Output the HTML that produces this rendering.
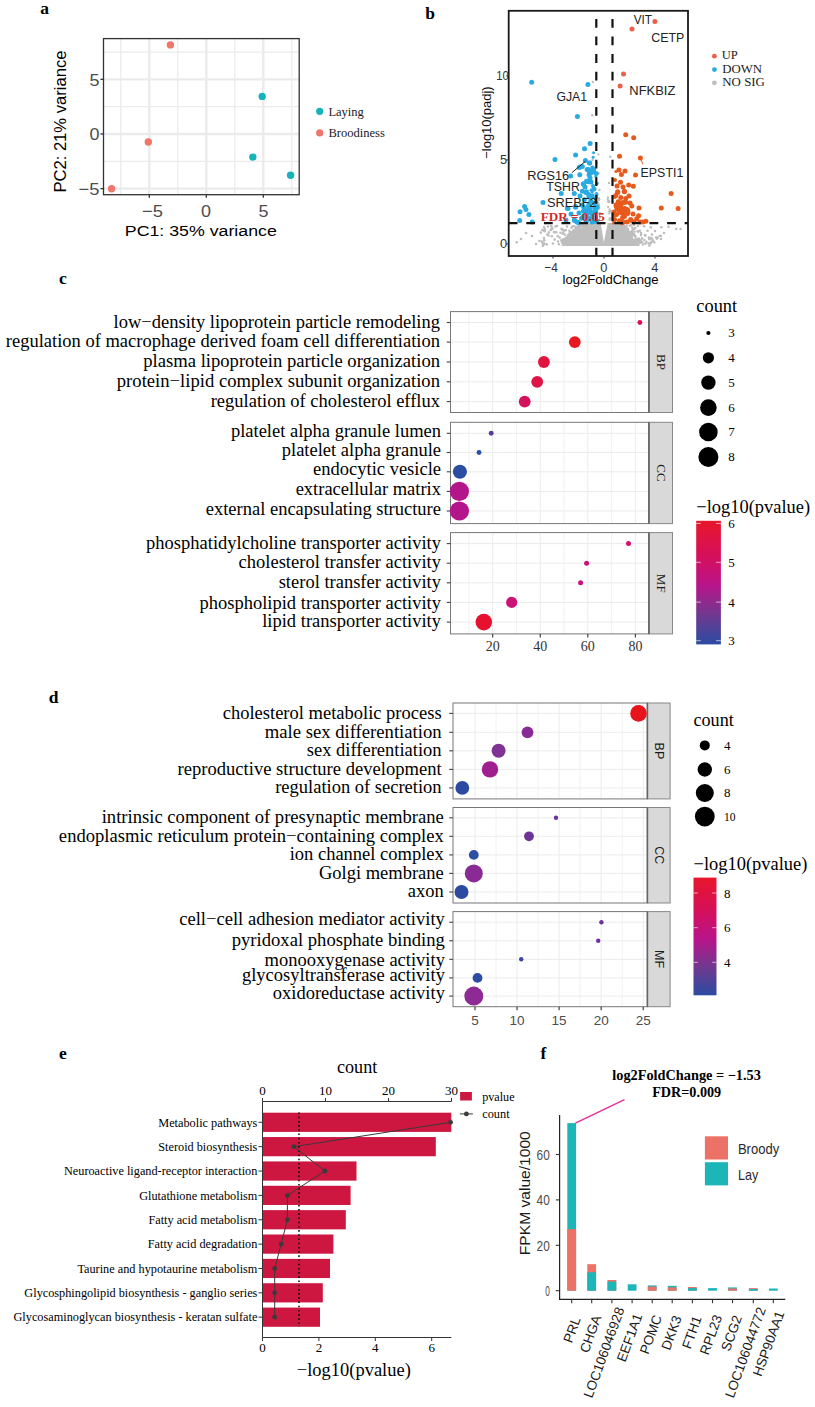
<!DOCTYPE html><html><head><meta charset="utf-8"><style>html,body{margin:0;padding:0;background:#fff;width:815px;height:1407px;overflow:hidden}svg{display:block}</style></head><body><svg width="815" height="1407" viewBox="0 0 815 1407"><rect width="815" height="1407" fill="#fff"/><text x="40.3" y="13.6" font-size="17.5" font-family='"Liberation Serif", serif' fill="#000" font-weight="bold" >a</text>
<text x="425.3" y="19.4" font-size="17.5" font-family='"Liberation Serif", serif' fill="#000" font-weight="bold" >b</text>
<text x="59.0" y="283.8" font-size="17.5" font-family='"Liberation Serif", serif' fill="#000" font-weight="bold" >c</text>
<text x="48.8" y="702.8" font-size="17.5" font-family='"Liberation Serif", serif' fill="#000" font-weight="bold" >d</text>
<text x="59.0" y="1058.5" font-size="17.5" font-family='"Liberation Serif", serif' fill="#000" font-weight="bold" >e</text>
<text x="540.5" y="1058.8" font-size="17.5" font-family='"Liberation Serif", serif' fill="#000" font-weight="bold" >f</text>
<line x1="120.80000000000001" y1="38.6" x2="120.80000000000001" y2="194.7" stroke="#EBEBEB" stroke-width="1.25" />
<line x1="177.8" y1="38.6" x2="177.8" y2="194.7" stroke="#EBEBEB" stroke-width="1.25" />
<line x1="234.8" y1="38.6" x2="234.8" y2="194.7" stroke="#EBEBEB" stroke-width="1.25" />
<line x1="291.8" y1="38.6" x2="291.8" y2="194.7" stroke="#EBEBEB" stroke-width="1.25" />
<line x1="103.5" y1="52.025000000000006" x2="299.2" y2="52.025000000000006" stroke="#EBEBEB" stroke-width="1.25" />
<line x1="103.5" y1="106.675" x2="299.2" y2="106.675" stroke="#EBEBEB" stroke-width="1.25" />
<line x1="103.5" y1="161.325" x2="299.2" y2="161.325" stroke="#EBEBEB" stroke-width="1.25" />
<line x1="149.3" y1="38.6" x2="149.3" y2="194.7" stroke="#EBEBEB" stroke-width="2.4" />
<line x1="206.3" y1="38.6" x2="206.3" y2="194.7" stroke="#EBEBEB" stroke-width="2.4" />
<line x1="263.3" y1="38.6" x2="263.3" y2="194.7" stroke="#EBEBEB" stroke-width="2.4" />
<line x1="103.5" y1="79.35" x2="299.2" y2="79.35" stroke="#EBEBEB" stroke-width="2.4" />
<line x1="103.5" y1="134.0" x2="299.2" y2="134.0" stroke="#EBEBEB" stroke-width="2.4" />
<line x1="103.5" y1="188.65" x2="299.2" y2="188.65" stroke="#EBEBEB" stroke-width="2.4" />
<rect x="103.5" y="38.6" width="195.7" height="156.1" fill="none" stroke="#333" stroke-width="1.3"/>
<line x1="149.3" y1="194.7" x2="149.3" y2="197.7" stroke="#333" stroke-width="1.3" />
<line x1="206.3" y1="194.7" x2="206.3" y2="197.7" stroke="#333" stroke-width="1.3" />
<line x1="263.3" y1="194.7" x2="263.3" y2="197.7" stroke="#333" stroke-width="1.3" />
<line x1="100.5" y1="79.35" x2="103.5" y2="79.35" stroke="#333" stroke-width="1.3" />
<line x1="100.5" y1="134.0" x2="103.5" y2="134.0" stroke="#333" stroke-width="1.3" />
<line x1="100.5" y1="188.65" x2="103.5" y2="188.65" stroke="#333" stroke-width="1.3" />
<circle cx="111.6" cy="188.7" r="3.7" fill="#F0756B"/>
<circle cx="148.3" cy="142" r="3.7" fill="#F0756B"/>
<circle cx="170.4" cy="44.9" r="3.7" fill="#F0756B"/>
<circle cx="262.2" cy="96.4" r="3.7" fill="#16B4B9"/>
<circle cx="252.8" cy="157.1" r="3.7" fill="#16B4B9"/>
<circle cx="290.6" cy="175.2" r="3.7" fill="#16B4B9"/>
<text x="99.4" y="85.5" font-size="16.8" font-family='"Liberation Sans", sans-serif' fill="#4D4D4D" text-anchor="end" textLength="10" lengthAdjust="spacingAndGlyphs" >5</text>
<text x="99.4" y="140.1" font-size="16.8" font-family='"Liberation Sans", sans-serif' fill="#4D4D4D" text-anchor="end" textLength="10" lengthAdjust="spacingAndGlyphs" >0</text>
<text x="99.4" y="194.8" font-size="16.8" font-family='"Liberation Sans", sans-serif' fill="#4D4D4D" text-anchor="end" textLength="21" lengthAdjust="spacingAndGlyphs" >−5</text>
<text x="152.6" y="216.6" font-size="16.8" font-family='"Liberation Sans", sans-serif' fill="#4D4D4D" text-anchor="middle" textLength="21" lengthAdjust="spacingAndGlyphs" >−5</text>
<text x="206.1" y="216.6" font-size="16.8" font-family='"Liberation Sans", sans-serif' fill="#4D4D4D" text-anchor="middle" textLength="10" lengthAdjust="spacingAndGlyphs" >0</text>
<text x="263.5" y="216.6" font-size="16.8" font-family='"Liberation Sans", sans-serif' fill="#4D4D4D" text-anchor="middle" textLength="10" lengthAdjust="spacingAndGlyphs" >5</text>
<text x="124.8" y="235.8" font-size="15.4" font-family='"Liberation Sans", sans-serif' fill="#000" textLength="152" lengthAdjust="spacingAndGlyphs" >PC1: 35% variance</text>
<text transform="translate(66.3,192.6) rotate(-90)" font-size="16.6" font-family='"Liberation Sans", sans-serif' fill="#000" textLength="142" lengthAdjust="spacingAndGlyphs" >PC2: 21% variance</text>
<circle cx="319.7" cy="111.3" r="3.6" fill="#16B4B9"/>
<circle cx="319.7" cy="132.9" r="3.6" fill="#F0756B"/>
<text x="328.4" y="116.3" font-size="12.7" font-family='"Liberation Serif", serif' fill="#222" textLength="35.5" lengthAdjust="spacingAndGlyphs" >Laying</text>
<text x="328.4" y="136.9" font-size="12.7" font-family='"Liberation Serif", serif' fill="#222" textLength="56.5" lengthAdjust="spacingAndGlyphs" >Broodiness</text>
<rect x="508.7" y="10.8" width="179.3" height="245.2" fill="#fff"/>
<polygon fill="#BEBEBE" points="561.5,246 562.6,243 587.1,223 600.7,223 603.8,242.5 607.7,223 621,223 622.5,229 639.5,244 639.5,246"/>
<circle cx="570.5" cy="236.4" r="1.3" fill="#BEBEBE"/>
<circle cx="578.7" cy="230.1" r="1.3" fill="#BEBEBE"/>
<circle cx="575.1" cy="231.5" r="1.3" fill="#BEBEBE"/>
<circle cx="563.1" cy="240.7" r="1.3" fill="#BEBEBE"/>
<circle cx="562.7" cy="241.3" r="1.3" fill="#BEBEBE"/>
<circle cx="564.4" cy="241.7" r="1.3" fill="#BEBEBE"/>
<circle cx="571.2" cy="232.3" r="1.3" fill="#BEBEBE"/>
<circle cx="565.4" cy="240.2" r="1.3" fill="#BEBEBE"/>
<circle cx="575.9" cy="227.9" r="1.3" fill="#BEBEBE"/>
<circle cx="576.1" cy="230.6" r="1.3" fill="#BEBEBE"/>
<circle cx="586.7" cy="223.7" r="1.3" fill="#BEBEBE"/>
<circle cx="583.2" cy="225.3" r="1.3" fill="#BEBEBE"/>
<circle cx="566.2" cy="240.1" r="1.3" fill="#BEBEBE"/>
<circle cx="568.4" cy="234.7" r="1.3" fill="#BEBEBE"/>
<circle cx="565.9" cy="238.0" r="1.3" fill="#BEBEBE"/>
<circle cx="577.6" cy="229.5" r="1.3" fill="#BEBEBE"/>
<circle cx="576.2" cy="232.2" r="1.3" fill="#BEBEBE"/>
<circle cx="563.9" cy="241.6" r="1.3" fill="#BEBEBE"/>
<circle cx="578.5" cy="228.5" r="1.3" fill="#BEBEBE"/>
<circle cx="569.1" cy="235.3" r="1.3" fill="#BEBEBE"/>
<circle cx="573.3" cy="233.4" r="1.3" fill="#BEBEBE"/>
<circle cx="580.6" cy="225.3" r="1.3" fill="#BEBEBE"/>
<circle cx="567.4" cy="236.7" r="1.3" fill="#BEBEBE"/>
<circle cx="573.6" cy="230.2" r="1.3" fill="#BEBEBE"/>
<circle cx="580.1" cy="227.9" r="1.3" fill="#BEBEBE"/>
<circle cx="586.6" cy="223.4" r="1.3" fill="#BEBEBE"/>
<circle cx="571.3" cy="232.7" r="1.3" fill="#BEBEBE"/>
<circle cx="565.4" cy="238.8" r="1.3" fill="#BEBEBE"/>
<circle cx="562.2" cy="240.5" r="1.3" fill="#BEBEBE"/>
<circle cx="580.2" cy="226.3" r="1.3" fill="#BEBEBE"/>
<circle cx="583.6" cy="224.9" r="1.3" fill="#BEBEBE"/>
<circle cx="578.5" cy="227.6" r="1.3" fill="#BEBEBE"/>
<circle cx="576.0" cy="230.4" r="1.3" fill="#BEBEBE"/>
<circle cx="581.1" cy="223.7" r="1.3" fill="#BEBEBE"/>
<circle cx="572.9" cy="231.9" r="1.3" fill="#BEBEBE"/>
<circle cx="562.6" cy="240.0" r="1.3" fill="#BEBEBE"/>
<circle cx="576.3" cy="227.4" r="1.3" fill="#BEBEBE"/>
<circle cx="582.3" cy="226.1" r="1.3" fill="#BEBEBE"/>
<circle cx="570.7" cy="233.6" r="1.3" fill="#BEBEBE"/>
<circle cx="562.3" cy="241.5" r="1.3" fill="#BEBEBE"/>
<circle cx="566.7" cy="239.7" r="1.3" fill="#BEBEBE"/>
<circle cx="562.4" cy="239.8" r="1.3" fill="#BEBEBE"/>
<circle cx="565.5" cy="240.0" r="1.3" fill="#BEBEBE"/>
<circle cx="570.3" cy="232.9" r="1.3" fill="#BEBEBE"/>
<circle cx="563.8" cy="240.4" r="1.3" fill="#BEBEBE"/>
<circle cx="574.2" cy="229.7" r="1.3" fill="#BEBEBE"/>
<circle cx="580.8" cy="224.3" r="1.3" fill="#BEBEBE"/>
<circle cx="568.7" cy="236.5" r="1.3" fill="#BEBEBE"/>
<circle cx="569.5" cy="233.5" r="1.3" fill="#BEBEBE"/>
<circle cx="586.0" cy="223.8" r="1.3" fill="#BEBEBE"/>
<circle cx="566.6" cy="239.1" r="1.3" fill="#BEBEBE"/>
<circle cx="567.4" cy="237.2" r="1.3" fill="#BEBEBE"/>
<circle cx="576.7" cy="230.8" r="1.3" fill="#BEBEBE"/>
<circle cx="562.0" cy="242.0" r="1.3" fill="#BEBEBE"/>
<circle cx="570.5" cy="234.3" r="1.3" fill="#BEBEBE"/>
<circle cx="584.5" cy="222.2" r="1.3" fill="#BEBEBE"/>
<circle cx="574.0" cy="231.2" r="1.3" fill="#BEBEBE"/>
<circle cx="579.3" cy="229.7" r="1.3" fill="#BEBEBE"/>
<circle cx="583.0" cy="223.0" r="1.3" fill="#BEBEBE"/>
<circle cx="582.3" cy="223.4" r="1.3" fill="#BEBEBE"/>
<circle cx="571.5" cy="234.3" r="1.3" fill="#BEBEBE"/>
<circle cx="563.9" cy="239.4" r="1.3" fill="#BEBEBE"/>
<circle cx="564.3" cy="241.9" r="1.3" fill="#BEBEBE"/>
<circle cx="567.6" cy="238.7" r="1.3" fill="#BEBEBE"/>
<circle cx="571.1" cy="236.4" r="1.3" fill="#BEBEBE"/>
<circle cx="562.5" cy="242.9" r="1.3" fill="#BEBEBE"/>
<circle cx="564.5" cy="240.2" r="1.3" fill="#BEBEBE"/>
<circle cx="561.3" cy="240.2" r="1.3" fill="#BEBEBE"/>
<circle cx="577.6" cy="230.6" r="1.3" fill="#BEBEBE"/>
<circle cx="568.2" cy="237.3" r="1.3" fill="#BEBEBE"/>
<circle cx="628.7" cy="234.5" r="1.3" fill="#BEBEBE"/>
<circle cx="639.2" cy="239.1" r="1.3" fill="#BEBEBE"/>
<circle cx="631.4" cy="234.9" r="1.3" fill="#BEBEBE"/>
<circle cx="623.9" cy="230.4" r="1.3" fill="#BEBEBE"/>
<circle cx="628.7" cy="233.7" r="1.3" fill="#BEBEBE"/>
<circle cx="636.7" cy="241.3" r="1.3" fill="#BEBEBE"/>
<circle cx="625.1" cy="226.9" r="1.3" fill="#BEBEBE"/>
<circle cx="631.5" cy="236.9" r="1.3" fill="#BEBEBE"/>
<circle cx="631.5" cy="237.4" r="1.3" fill="#BEBEBE"/>
<circle cx="633.7" cy="234.4" r="1.3" fill="#BEBEBE"/>
<circle cx="638.7" cy="240.2" r="1.3" fill="#BEBEBE"/>
<circle cx="627.6" cy="232.2" r="1.3" fill="#BEBEBE"/>
<circle cx="627.0" cy="229.6" r="1.3" fill="#BEBEBE"/>
<circle cx="633.3" cy="235.0" r="1.3" fill="#BEBEBE"/>
<circle cx="628.4" cy="233.7" r="1.3" fill="#BEBEBE"/>
<circle cx="638.6" cy="238.6" r="1.3" fill="#BEBEBE"/>
<circle cx="638.8" cy="239.7" r="1.3" fill="#BEBEBE"/>
<circle cx="638.0" cy="239.4" r="1.3" fill="#BEBEBE"/>
<circle cx="627.4" cy="231.2" r="1.3" fill="#BEBEBE"/>
<circle cx="628.3" cy="234.6" r="1.3" fill="#BEBEBE"/>
<circle cx="623.4" cy="229.0" r="1.3" fill="#BEBEBE"/>
<circle cx="628.4" cy="231.2" r="1.3" fill="#BEBEBE"/>
<circle cx="639.6" cy="242.4" r="1.3" fill="#BEBEBE"/>
<circle cx="640.7" cy="240.5" r="1.3" fill="#BEBEBE"/>
<circle cx="639.4" cy="242.6" r="1.3" fill="#BEBEBE"/>
<circle cx="626.5" cy="232.0" r="1.3" fill="#BEBEBE"/>
<circle cx="626.1" cy="231.7" r="1.3" fill="#BEBEBE"/>
<circle cx="635.2" cy="236.0" r="1.3" fill="#BEBEBE"/>
<circle cx="637.7" cy="240.5" r="1.3" fill="#BEBEBE"/>
<circle cx="635.4" cy="236.8" r="1.3" fill="#BEBEBE"/>
<circle cx="625.4" cy="228.7" r="1.3" fill="#BEBEBE"/>
<circle cx="639.7" cy="240.7" r="1.3" fill="#BEBEBE"/>
<circle cx="636.2" cy="239.2" r="1.3" fill="#BEBEBE"/>
<circle cx="627.3" cy="229.7" r="1.3" fill="#BEBEBE"/>
<circle cx="629.9" cy="232.0" r="1.3" fill="#BEBEBE"/>
<circle cx="639.7" cy="242.8" r="1.3" fill="#BEBEBE"/>
<circle cx="631.5" cy="232.6" r="1.3" fill="#BEBEBE"/>
<circle cx="634.9" cy="239.7" r="1.3" fill="#BEBEBE"/>
<circle cx="624.7" cy="230.8" r="1.3" fill="#BEBEBE"/>
<circle cx="639.7" cy="240.5" r="1.3" fill="#BEBEBE"/>
<circle cx="626.8" cy="229.1" r="1.3" fill="#BEBEBE"/>
<circle cx="640.6" cy="242.1" r="1.3" fill="#BEBEBE"/>
<circle cx="629.6" cy="233.0" r="1.3" fill="#BEBEBE"/>
<circle cx="624.4" cy="231.3" r="1.3" fill="#BEBEBE"/>
<circle cx="640.4" cy="242.0" r="1.3" fill="#BEBEBE"/>
<circle cx="633.6" cy="234.5" r="1.3" fill="#BEBEBE"/>
<circle cx="631.8" cy="233.3" r="1.3" fill="#BEBEBE"/>
<circle cx="636.8" cy="241.1" r="1.3" fill="#BEBEBE"/>
<circle cx="627.2" cy="232.3" r="1.3" fill="#BEBEBE"/>
<circle cx="627.8" cy="231.2" r="1.3" fill="#BEBEBE"/>
<circle cx="627.7" cy="232.0" r="1.3" fill="#BEBEBE"/>
<circle cx="626.8" cy="228.6" r="1.3" fill="#BEBEBE"/>
<circle cx="629.4" cy="233.3" r="1.3" fill="#BEBEBE"/>
<circle cx="634.5" cy="235.4" r="1.3" fill="#BEBEBE"/>
<circle cx="631.7" cy="232.9" r="1.3" fill="#BEBEBE"/>
<circle cx="632.1" cy="235.3" r="1.3" fill="#BEBEBE"/>
<circle cx="631.1" cy="237.2" r="1.3" fill="#BEBEBE"/>
<circle cx="630.1" cy="235.4" r="1.3" fill="#BEBEBE"/>
<circle cx="624.3" cy="227.0" r="1.3" fill="#BEBEBE"/>
<circle cx="626.3" cy="230.5" r="1.3" fill="#BEBEBE"/>
<circle cx="623.2" cy="226.3" r="1.3" fill="#BEBEBE"/>
<circle cx="622.0" cy="226.1" r="1.3" fill="#BEBEBE"/>
<circle cx="622.7" cy="227.7" r="1.3" fill="#BEBEBE"/>
<circle cx="621.3" cy="226.4" r="1.3" fill="#BEBEBE"/>
<circle cx="621.7" cy="224.7" r="1.3" fill="#BEBEBE"/>
<circle cx="623.3" cy="226.0" r="1.3" fill="#BEBEBE"/>
<circle cx="622.7" cy="227.6" r="1.3" fill="#BEBEBE"/>
<circle cx="623.7" cy="225.7" r="1.3" fill="#BEBEBE"/>
<circle cx="622.8" cy="226.0" r="1.3" fill="#BEBEBE"/>
<circle cx="622.5" cy="227.2" r="1.3" fill="#BEBEBE"/>
<circle cx="622.4" cy="226.2" r="1.3" fill="#BEBEBE"/>
<circle cx="622.4" cy="228.6" r="1.3" fill="#BEBEBE"/>
<circle cx="623.1" cy="228.3" r="1.3" fill="#BEBEBE"/>
<circle cx="623.8" cy="224.6" r="1.3" fill="#BEBEBE"/>
<circle cx="622.7" cy="228.7" r="1.3" fill="#BEBEBE"/>
<circle cx="623.5" cy="223.8" r="1.3" fill="#BEBEBE"/>
<circle cx="621.4" cy="225.7" r="1.3" fill="#BEBEBE"/>
<circle cx="621.2" cy="224.4" r="1.3" fill="#BEBEBE"/>
<circle cx="621.2" cy="227.0" r="1.3" fill="#BEBEBE"/>
<circle cx="623.4" cy="228.4" r="1.3" fill="#BEBEBE"/>
<circle cx="621.5" cy="227.3" r="1.3" fill="#BEBEBE"/>
<circle cx="623.0" cy="223.9" r="1.3" fill="#BEBEBE"/>
<circle cx="623.6" cy="228.8" r="1.3" fill="#BEBEBE"/>
<circle cx="621.7" cy="228.7" r="1.3" fill="#BEBEBE"/>
<circle cx="622.2" cy="225.9" r="1.3" fill="#BEBEBE"/>
<circle cx="516.7" cy="242.2" r="1.3" fill="#BEBEBE"/>
<circle cx="532" cy="236" r="1.3" fill="#BEBEBE"/>
<circle cx="539.4" cy="241" r="1.3" fill="#BEBEBE"/>
<circle cx="544.3" cy="230.5" r="1.3" fill="#BEBEBE"/>
<circle cx="551" cy="230" r="1.3" fill="#BEBEBE"/>
<circle cx="544.3" cy="240.3" r="1.3" fill="#BEBEBE"/>
<circle cx="544.3" cy="244" r="1.3" fill="#BEBEBE"/>
<circle cx="555.3" cy="232.3" r="1.3" fill="#BEBEBE"/>
<circle cx="562" cy="229.3" r="1.3" fill="#BEBEBE"/>
<circle cx="565.7" cy="230" r="1.3" fill="#BEBEBE"/>
<circle cx="544.4" cy="230.8" r="1.3" fill="#BEBEBE"/>
<circle cx="550.8" cy="229.8" r="1.3" fill="#BEBEBE"/>
<circle cx="556.2" cy="232.2" r="1.3" fill="#BEBEBE"/>
<circle cx="561.6" cy="228.8" r="1.3" fill="#BEBEBE"/>
<circle cx="565.5" cy="230.3" r="1.3" fill="#BEBEBE"/>
<circle cx="544" cy="238" r="1.3" fill="#BEBEBE"/>
<circle cx="551.8" cy="236.2" r="1.3" fill="#BEBEBE"/>
<circle cx="554.7" cy="239.6" r="1.3" fill="#BEBEBE"/>
<circle cx="559.6" cy="237.6" r="1.3" fill="#BEBEBE"/>
<circle cx="562.6" cy="233.7" r="1.3" fill="#BEBEBE"/>
<circle cx="571.4" cy="227.8" r="1.3" fill="#BEBEBE"/>
<circle cx="574.3" cy="226.3" r="1.3" fill="#BEBEBE"/>
<circle cx="569.4" cy="230.8" r="1.3" fill="#BEBEBE"/>
<circle cx="526" cy="233" r="1.3" fill="#BEBEBE"/>
<circle cx="521" cy="239" r="1.3" fill="#BEBEBE"/>
<circle cx="536" cy="244" r="1.3" fill="#BEBEBE"/>
<circle cx="548" cy="226.5" r="1.3" fill="#BEBEBE"/>
<circle cx="557" cy="226" r="1.3" fill="#BEBEBE"/>
<circle cx="567" cy="226.5" r="1.3" fill="#BEBEBE"/>
<circle cx="578" cy="226" r="1.3" fill="#BEBEBE"/>
<circle cx="582" cy="225.5" r="1.3" fill="#BEBEBE"/>
<circle cx="553" cy="243.5" r="1.3" fill="#BEBEBE"/>
<circle cx="558" cy="241.5" r="1.3" fill="#BEBEBE"/>
<circle cx="626.5" cy="226.3" r="1.3" fill="#BEBEBE"/>
<circle cx="629.8" cy="225.7" r="1.3" fill="#BEBEBE"/>
<circle cx="635.3" cy="228" r="1.3" fill="#BEBEBE"/>
<circle cx="644.2" cy="226.3" r="1.3" fill="#BEBEBE"/>
<circle cx="650.8" cy="227.4" r="1.3" fill="#BEBEBE"/>
<circle cx="647.5" cy="230.7" r="1.3" fill="#BEBEBE"/>
<circle cx="639.8" cy="230.7" r="1.3" fill="#BEBEBE"/>
<circle cx="632" cy="230.7" r="1.3" fill="#BEBEBE"/>
<circle cx="623.2" cy="231.3" r="1.3" fill="#BEBEBE"/>
<circle cx="651.9" cy="234.6" r="1.3" fill="#BEBEBE"/>
<circle cx="656.3" cy="237.3" r="1.3" fill="#BEBEBE"/>
<circle cx="659.6" cy="235.7" r="1.3" fill="#BEBEBE"/>
<circle cx="653" cy="240.6" r="1.3" fill="#BEBEBE"/>
<circle cx="648.6" cy="243.4" r="1.3" fill="#BEBEBE"/>
<circle cx="642" cy="238.4" r="1.3" fill="#BEBEBE"/>
<circle cx="668.5" cy="226.8" r="1.3" fill="#BEBEBE"/>
<circle cx="676.2" cy="229" r="1.3" fill="#BEBEBE"/>
<circle cx="680.6" cy="229" r="1.3" fill="#BEBEBE"/>
<circle cx="644.2" cy="240" r="1.3" fill="#BEBEBE"/>
<circle cx="646.4" cy="241.7" r="1.3" fill="#BEBEBE"/>
<circle cx="638" cy="226" r="1.3" fill="#BEBEBE"/>
<circle cx="641" cy="233" r="1.3" fill="#BEBEBE"/>
<circle cx="645" cy="235" r="1.3" fill="#BEBEBE"/>
<circle cx="649" cy="237.5" r="1.3" fill="#BEBEBE"/>
<circle cx="655" cy="231" r="1.3" fill="#BEBEBE"/>
<circle cx="661" cy="239" r="1.3" fill="#BEBEBE"/>
<circle cx="664" cy="233" r="1.3" fill="#BEBEBE"/>
<circle cx="643" cy="244.5" r="1.3" fill="#BEBEBE"/>
<circle cx="634" cy="225" r="1.3" fill="#BEBEBE"/>
<circle cx="628" cy="229" r="1.3" fill="#BEBEBE"/>
<circle cx="547.3" cy="234.6" r="1.3" fill="#BEBEBE"/>
<circle cx="563.2" cy="232.8" r="1.3" fill="#BEBEBE"/>
<circle cx="548.8" cy="232.4" r="1.3" fill="#BEBEBE"/>
<circle cx="572.5" cy="226.4" r="1.3" fill="#BEBEBE"/>
<circle cx="564.9" cy="234.8" r="1.3" fill="#BEBEBE"/>
<circle cx="540.8" cy="232.6" r="1.3" fill="#BEBEBE"/>
<circle cx="568.1" cy="236.2" r="1.3" fill="#BEBEBE"/>
<circle cx="542.9" cy="245.7" r="1.3" fill="#BEBEBE"/>
<circle cx="544.7" cy="231.3" r="1.3" fill="#BEBEBE"/>
<circle cx="541.8" cy="241.6" r="1.3" fill="#BEBEBE"/>
<circle cx="552.2" cy="228.6" r="1.3" fill="#BEBEBE"/>
<circle cx="559.0" cy="244.2" r="1.3" fill="#BEBEBE"/>
<circle cx="546.7" cy="244.4" r="1.3" fill="#BEBEBE"/>
<circle cx="544.0" cy="227.2" r="1.3" fill="#BEBEBE"/>
<circle cx="571.0" cy="234.5" r="1.3" fill="#BEBEBE"/>
<circle cx="543.3" cy="244.8" r="1.3" fill="#BEBEBE"/>
<circle cx="543.8" cy="243.1" r="1.3" fill="#BEBEBE"/>
<circle cx="543.0" cy="243.3" r="1.3" fill="#BEBEBE"/>
<circle cx="560.4" cy="232.8" r="1.3" fill="#BEBEBE"/>
<circle cx="552.1" cy="228.6" r="1.3" fill="#BEBEBE"/>
<circle cx="563.7" cy="230.8" r="1.3" fill="#BEBEBE"/>
<circle cx="544.9" cy="229.2" r="1.3" fill="#BEBEBE"/>
<circle cx="542.3" cy="230.0" r="1.3" fill="#BEBEBE"/>
<circle cx="554.0" cy="232.1" r="1.3" fill="#BEBEBE"/>
<circle cx="574.2" cy="231.8" r="1.3" fill="#BEBEBE"/>
<circle cx="562.5" cy="229.6" r="1.3" fill="#BEBEBE"/>
<circle cx="555.6" cy="226.4" r="1.3" fill="#BEBEBE"/>
<circle cx="551.3" cy="226.3" r="1.3" fill="#BEBEBE"/>
<circle cx="548.5" cy="235.5" r="1.3" fill="#BEBEBE"/>
<circle cx="557.7" cy="236.1" r="1.3" fill="#BEBEBE"/>
<circle cx="649.5" cy="245.6" r="1.3" fill="#BEBEBE"/>
<circle cx="650.3" cy="238.0" r="1.3" fill="#BEBEBE"/>
<circle cx="638.2" cy="231.6" r="1.3" fill="#BEBEBE"/>
<circle cx="624.2" cy="226.9" r="1.3" fill="#BEBEBE"/>
<circle cx="632.2" cy="227.6" r="1.3" fill="#BEBEBE"/>
<circle cx="656.8" cy="238.8" r="1.3" fill="#BEBEBE"/>
<circle cx="633.3" cy="229.3" r="1.3" fill="#BEBEBE"/>
<circle cx="633.7" cy="234.1" r="1.3" fill="#BEBEBE"/>
<circle cx="628.3" cy="233.8" r="1.3" fill="#BEBEBE"/>
<circle cx="660.9" cy="236.0" r="1.3" fill="#BEBEBE"/>
<circle cx="634.4" cy="231.8" r="1.3" fill="#BEBEBE"/>
<circle cx="641.0" cy="235.1" r="1.3" fill="#BEBEBE"/>
<circle cx="630.0" cy="235.1" r="1.3" fill="#BEBEBE"/>
<circle cx="623.7" cy="224.5" r="1.3" fill="#BEBEBE"/>
<circle cx="634.2" cy="229.1" r="1.3" fill="#BEBEBE"/>
<circle cx="645.4" cy="235.6" r="1.3" fill="#BEBEBE"/>
<circle cx="652.0" cy="238.5" r="1.3" fill="#BEBEBE"/>
<circle cx="650.6" cy="243.3" r="1.3" fill="#BEBEBE"/>
<circle cx="637.6" cy="231.2" r="1.3" fill="#BEBEBE"/>
<circle cx="661.4" cy="227.3" r="1.3" fill="#BEBEBE"/>
<circle cx="651.0" cy="238.2" r="1.3" fill="#BEBEBE"/>
<circle cx="657.7" cy="237.8" r="1.3" fill="#BEBEBE"/>
<circle cx="651.4" cy="241.9" r="1.3" fill="#BEBEBE"/>
<circle cx="642.2" cy="242.4" r="1.3" fill="#BEBEBE"/>
<circle cx="654.2" cy="242.2" r="1.3" fill="#BEBEBE"/>
<circle cx="645.4" cy="243.6" r="1.3" fill="#BEBEBE"/>
<circle cx="649.3" cy="239.3" r="1.3" fill="#BEBEBE"/>
<circle cx="631.2" cy="224.7" r="1.3" fill="#BEBEBE"/>
<circle cx="627.3" cy="231.9" r="1.3" fill="#BEBEBE"/>
<circle cx="598.2" cy="205.2" r="1.15" fill="#BEBEBE"/>
<circle cx="598.4" cy="154.4" r="1.15" fill="#BEBEBE"/>
<circle cx="597.0" cy="163.0" r="1.15" fill="#BEBEBE"/>
<circle cx="599.3" cy="199.3" r="1.15" fill="#BEBEBE"/>
<circle cx="597.5" cy="202.2" r="1.15" fill="#BEBEBE"/>
<circle cx="609.6" cy="220.0" r="1.15" fill="#BEBEBE"/>
<circle cx="599.1" cy="205.5" r="1.15" fill="#BEBEBE"/>
<circle cx="599.9" cy="213.1" r="1.15" fill="#BEBEBE"/>
<circle cx="597.7" cy="183.4" r="1.15" fill="#BEBEBE"/>
<circle cx="597.8" cy="203.9" r="1.15" fill="#BEBEBE"/>
<circle cx="609.7" cy="209.5" r="1.15" fill="#BEBEBE"/>
<circle cx="596.6" cy="174.5" r="1.15" fill="#BEBEBE"/>
<circle cx="599.1" cy="200.0" r="1.15" fill="#BEBEBE"/>
<circle cx="609.4" cy="211.7" r="1.15" fill="#BEBEBE"/>
<circle cx="596.9" cy="206.4" r="1.15" fill="#BEBEBE"/>
<circle cx="609.7" cy="218.5" r="1.15" fill="#BEBEBE"/>
<circle cx="598.4" cy="203.2" r="1.15" fill="#BEBEBE"/>
<circle cx="611.0" cy="211.5" r="1.15" fill="#BEBEBE"/>
<circle cx="611.2" cy="211.2" r="1.15" fill="#BEBEBE"/>
<circle cx="609.3" cy="213.6" r="1.15" fill="#BEBEBE"/>
<circle cx="607.8" cy="199.5" r="1.15" fill="#BEBEBE"/>
<circle cx="596.9" cy="197.8" r="1.15" fill="#BEBEBE"/>
<circle cx="609.2" cy="211.6" r="1.15" fill="#BEBEBE"/>
<circle cx="608.1" cy="201.7" r="1.15" fill="#BEBEBE"/>
<circle cx="599.2" cy="199.6" r="1.15" fill="#BEBEBE"/>
<circle cx="596.8" cy="196.0" r="1.15" fill="#BEBEBE"/>
<circle cx="609.0" cy="201.0" r="1.15" fill="#BEBEBE"/>
<circle cx="607.9" cy="197.5" r="1.15" fill="#BEBEBE"/>
<circle cx="598.2" cy="220.7" r="1.15" fill="#BEBEBE"/>
<circle cx="598.6" cy="204.7" r="1.15" fill="#BEBEBE"/>
<circle cx="600.0" cy="217.5" r="1.15" fill="#BEBEBE"/>
<circle cx="608.8" cy="202.2" r="1.15" fill="#BEBEBE"/>
<circle cx="599.2" cy="214.0" r="1.15" fill="#BEBEBE"/>
<circle cx="598.8" cy="173.3" r="1.15" fill="#BEBEBE"/>
<circle cx="597.3" cy="209.9" r="1.15" fill="#BEBEBE"/>
<circle cx="610.5" cy="218.3" r="1.15" fill="#BEBEBE"/>
<circle cx="608.1" cy="207.1" r="1.15" fill="#BEBEBE"/>
<circle cx="598.9" cy="198.2" r="1.15" fill="#BEBEBE"/>
<circle cx="609.3" cy="202.0" r="1.15" fill="#BEBEBE"/>
<circle cx="599.2" cy="208.7" r="1.15" fill="#BEBEBE"/>
<circle cx="592.8" cy="82" r="1.2" fill="#BEBEBE"/>
<circle cx="592.2" cy="115.3" r="1.2" fill="#BEBEBE"/>
<circle cx="610.3" cy="156.8" r="1.2" fill="#BEBEBE"/>
<circle cx="592.5" cy="160" r="1.2" fill="#BEBEBE"/>
<circle cx="609" cy="183" r="1.2" fill="#BEBEBE"/>
<circle cx="599.5" cy="190" r="1.2" fill="#BEBEBE"/>
<circle cx="531.7" cy="82.2" r="2.5" fill="#29ABE2"/>
<circle cx="587.9" cy="84.5" r="2.5" fill="#29ABE2"/>
<circle cx="577.4" cy="116.5" r="2.5" fill="#29ABE2"/>
<circle cx="590.1" cy="143.6" r="2.5" fill="#29ABE2"/>
<circle cx="584.5" cy="148.8" r="2.5" fill="#29ABE2"/>
<circle cx="575.6" cy="155" r="2.5" fill="#29ABE2"/>
<circle cx="555" cy="159.4" r="2.5" fill="#29ABE2"/>
<circle cx="593.6" cy="152.8" r="1.5" fill="#29ABE2"/>
<circle cx="593.1" cy="157.2" r="1.5" fill="#29ABE2"/>
<circle cx="585.4" cy="160.4" r="2.5" fill="#29ABE2"/>
<circle cx="589.7" cy="162.9" r="2.5" fill="#29ABE2"/>
<circle cx="582.3" cy="166.6" r="2.5" fill="#29ABE2"/>
<circle cx="579.2" cy="167.4" r="2.5" fill="#29ABE2"/>
<circle cx="588.2" cy="169.5" r="2.5" fill="#29ABE2"/>
<circle cx="589.7" cy="172.3" r="2.5" fill="#29ABE2"/>
<circle cx="592.7" cy="168" r="2" fill="#29ABE2"/>
<circle cx="579.8" cy="174.8" r="2.5" fill="#29ABE2"/>
<circle cx="570.6" cy="176" r="2.5" fill="#29ABE2"/>
<circle cx="594.6" cy="173" r="1.5" fill="#29ABE2"/>
<circle cx="588.4" cy="181.5" r="2.5" fill="#29ABE2"/>
<circle cx="583.2" cy="184" r="2.5" fill="#29ABE2"/>
<circle cx="595.8" cy="176.6" r="1.5" fill="#29ABE2"/>
<circle cx="596.4" cy="184" r="1.5" fill="#29ABE2"/>
<circle cx="590.9" cy="190.1" r="1.5" fill="#29ABE2"/>
<circle cx="582.3" cy="191.3" r="2.5" fill="#29ABE2"/>
<circle cx="574.3" cy="193.4" r="2.5" fill="#29ABE2"/>
<circle cx="561.2" cy="193.4" r="2.5" fill="#29ABE2"/>
<circle cx="586" cy="192.6" r="2.5" fill="#29ABE2"/>
<circle cx="596.4" cy="193.8" r="1.8" fill="#29ABE2"/>
<circle cx="585" cy="160.7" r="2" fill="#29ABE2"/>
<circle cx="589.5" cy="163" r="2.5" fill="#29ABE2"/>
<circle cx="579.9" cy="167" r="2.5" fill="#29ABE2"/>
<circle cx="592.4" cy="167.4" r="2" fill="#29ABE2"/>
<circle cx="587.2" cy="169.6" r="2.5" fill="#29ABE2"/>
<circle cx="589.5" cy="171" r="2.5" fill="#29ABE2"/>
<circle cx="590.9" cy="172.9" r="2.5" fill="#29ABE2"/>
<circle cx="589.1" cy="174.7" r="2.5" fill="#29ABE2"/>
<circle cx="588.7" cy="181.7" r="2.5" fill="#29ABE2"/>
<circle cx="586.5" cy="181.2" r="2.5" fill="#29ABE2"/>
<circle cx="591" cy="182" r="2.5" fill="#29ABE2"/>
<circle cx="583.6" cy="183.9" r="2.5" fill="#29ABE2"/>
<circle cx="596.8" cy="183.6" r="1.8" fill="#29ABE2"/>
<circle cx="591.7" cy="190.2" r="1.5" fill="#29ABE2"/>
<circle cx="586.5" cy="191.7" r="2.5" fill="#29ABE2"/>
<circle cx="588.7" cy="194.6" r="2.5" fill="#29ABE2"/>
<circle cx="596.8" cy="194.6" r="1.8" fill="#29ABE2"/>
<circle cx="595.3" cy="198.3" r="2" fill="#29ABE2"/>
<circle cx="584.3" cy="199.8" r="2.5" fill="#29ABE2"/>
<circle cx="590.9" cy="201.2" r="2.5" fill="#29ABE2"/>
<circle cx="575.5" cy="206.4" r="2.5" fill="#29ABE2"/>
<circle cx="567.4" cy="208.2" r="2.5" fill="#29ABE2"/>
<circle cx="584.3" cy="210.8" r="2.5" fill="#29ABE2"/>
<circle cx="589.5" cy="208.6" r="2.5" fill="#29ABE2"/>
<circle cx="594.6" cy="207.9" r="2.5" fill="#29ABE2"/>
<circle cx="587.2" cy="213" r="2.5" fill="#29ABE2"/>
<circle cx="592.4" cy="214.5" r="2.5" fill="#29ABE2"/>
<circle cx="595.3" cy="211.5" r="2.5" fill="#29ABE2"/>
<circle cx="583.6" cy="216" r="2.5" fill="#29ABE2"/>
<circle cx="574.7" cy="220.4" r="2.5" fill="#29ABE2"/>
<circle cx="590.9" cy="218.9" r="2.5" fill="#29ABE2"/>
<circle cx="595.3" cy="218.9" r="2.5" fill="#29ABE2"/>
<circle cx="586.5" cy="221.1" r="2.5" fill="#29ABE2"/>
<circle cx="578.4" cy="222.6" r="2.5" fill="#29ABE2"/>
<circle cx="524.6" cy="206.6" r="2.5" fill="#29ABE2"/>
<circle cx="525.9" cy="209.6" r="2.5" fill="#29ABE2"/>
<circle cx="520" cy="211.8" r="2.5" fill="#29ABE2"/>
<circle cx="528.9" cy="214.5" r="2.5" fill="#29ABE2"/>
<circle cx="519.7" cy="220.4" r="2.5" fill="#29ABE2"/>
<circle cx="532.2" cy="221.9" r="2.5" fill="#29ABE2"/>
<circle cx="543" cy="202.5" r="2.5" fill="#29ABE2"/>
<circle cx="568" cy="208.4" r="2.5" fill="#29ABE2"/>
<circle cx="575.6" cy="207.2" r="2.5" fill="#29ABE2"/>
<circle cx="574.3" cy="220" r="2.5" fill="#29ABE2"/>
<circle cx="576.8" cy="221.9" r="2.5" fill="#29ABE2"/>
<circle cx="583.5" cy="210.9" r="2.5" fill="#29ABE2"/>
<circle cx="588.4" cy="209.6" r="2.5" fill="#29ABE2"/>
<circle cx="592" cy="196" r="2.5" fill="#29ABE2"/>
<circle cx="594" cy="203" r="2.5" fill="#29ABE2"/>
<circle cx="589" cy="204" r="2.5" fill="#29ABE2"/>
<circle cx="593" cy="186" r="2" fill="#29ABE2"/>
<circle cx="590" cy="178" r="2.5" fill="#29ABE2"/>
<circle cx="594" cy="189" r="2.5" fill="#29ABE2"/>
<circle cx="585" cy="187" r="2.5" fill="#29ABE2"/>
<circle cx="580" cy="196" r="2.5" fill="#29ABE2"/>
<circle cx="592" cy="222" r="2.5" fill="#29ABE2"/>
<circle cx="594" cy="216" r="2.5" fill="#29ABE2"/>
<circle cx="582" cy="205" r="2.5" fill="#29ABE2"/>
<circle cx="579" cy="213" r="2.5" fill="#29ABE2"/>
<circle cx="587" cy="217" r="2.5" fill="#29ABE2"/>
<circle cx="571" cy="214" r="2.5" fill="#29ABE2"/>
<circle cx="566" cy="220" r="2.5" fill="#29ABE2"/>
<circle cx="589" cy="197" r="2.5" fill="#29ABE2"/>
<circle cx="586.3" cy="216.7" r="2.5" fill="#29ABE2"/>
<circle cx="589.3" cy="218.4" r="2.5" fill="#29ABE2"/>
<circle cx="594.9" cy="206.6" r="2.5" fill="#29ABE2"/>
<circle cx="595.7" cy="211.5" r="2.5" fill="#29ABE2"/>
<circle cx="591.3" cy="212.3" r="2.5" fill="#29ABE2"/>
<circle cx="585.5" cy="218.8" r="2.5" fill="#29ABE2"/>
<circle cx="596.9" cy="207.2" r="2.5" fill="#29ABE2"/>
<circle cx="587.4" cy="218.0" r="2.5" fill="#29ABE2"/>
<circle cx="594.1" cy="221.5" r="2.5" fill="#29ABE2"/>
<circle cx="588.6" cy="206.2" r="2.5" fill="#29ABE2"/>
<circle cx="596.3" cy="220.8" r="2.5" fill="#29ABE2"/>
<circle cx="589.2" cy="213.0" r="2.5" fill="#29ABE2"/>
<circle cx="587.9" cy="218.3" r="2.5" fill="#29ABE2"/>
<circle cx="583.9" cy="207.6" r="2.5" fill="#29ABE2"/>
<circle cx="597.0" cy="206.9" r="2.5" fill="#29ABE2"/>
<circle cx="594.4" cy="216.9" r="2.5" fill="#29ABE2"/>
<circle cx="594.8" cy="220.2" r="2.5" fill="#29ABE2"/>
<circle cx="581.5" cy="218.2" r="2.5" fill="#29ABE2"/>
<circle cx="592.9" cy="170.0" r="2.5" fill="#29ABE2"/>
<circle cx="592.9" cy="195.0" r="1.6" fill="#29ABE2"/>
<circle cx="592.2" cy="191.9" r="1.6" fill="#29ABE2"/>
<circle cx="596.1" cy="173.5" r="2.5" fill="#29ABE2"/>
<circle cx="595.7" cy="203.0" r="1.6" fill="#29ABE2"/>
<circle cx="593.7" cy="170.0" r="2.5" fill="#29ABE2"/>
<circle cx="625.7" cy="134.7" r="2.5" fill="#E85A1C"/>
<circle cx="633.7" cy="137.8" r="2.5" fill="#E85A1C"/>
<circle cx="619.5" cy="156.2" r="2.5" fill="#E85A1C"/>
<circle cx="640.4" cy="158" r="2.5" fill="#E85A1C"/>
<circle cx="618.9" cy="170.1" r="2.5" fill="#E85A1C"/>
<circle cx="625" cy="170.9" r="2.5" fill="#E85A1C"/>
<circle cx="621.4" cy="174.6" r="2.5" fill="#E85A1C"/>
<circle cx="635.5" cy="175" r="2.5" fill="#E85A1C"/>
<circle cx="615.9" cy="171.5" r="1.5" fill="#E85A1C"/>
<circle cx="620.5" cy="182.3" r="2.5" fill="#E85A1C"/>
<circle cx="623" cy="186.9" r="2.5" fill="#E85A1C"/>
<circle cx="628.7" cy="185" r="2.5" fill="#E85A1C"/>
<circle cx="633.3" cy="186.3" r="2.5" fill="#E85A1C"/>
<circle cx="617.7" cy="191.8" r="2.5" fill="#E85A1C"/>
<circle cx="624.4" cy="191.2" r="2.5" fill="#E85A1C"/>
<circle cx="671.1" cy="193.6" r="2.5" fill="#E85A1C"/>
<circle cx="617.7" cy="192.5" r="2.5" fill="#E85A1C"/>
<circle cx="624.4" cy="191.8" r="2.5" fill="#E85A1C"/>
<circle cx="620.8" cy="197.4" r="2.5" fill="#E85A1C"/>
<circle cx="625.7" cy="198.6" r="2.5" fill="#E85A1C"/>
<circle cx="618.3" cy="201.7" r="2.5" fill="#E85A1C"/>
<circle cx="625.7" cy="202.3" r="2.5" fill="#E85A1C"/>
<circle cx="631.8" cy="206" r="2.5" fill="#E85A1C"/>
<circle cx="626.9" cy="209.6" r="2.5" fill="#E85A1C"/>
<circle cx="619.5" cy="210.9" r="2.5" fill="#E85A1C"/>
<circle cx="616.5" cy="214.5" r="2.5" fill="#E85A1C"/>
<circle cx="624.4" cy="216.4" r="2.5" fill="#E85A1C"/>
<circle cx="633" cy="213.9" r="2.5" fill="#E85A1C"/>
<circle cx="638.6" cy="215.8" r="2.5" fill="#E85A1C"/>
<circle cx="630.6" cy="219.4" r="2.5" fill="#E85A1C"/>
<circle cx="636.7" cy="218.8" r="2.5" fill="#E85A1C"/>
<circle cx="642.9" cy="221.9" r="2.5" fill="#E85A1C"/>
<circle cx="645.9" cy="221.3" r="2.5" fill="#E85A1C"/>
<circle cx="614.6" cy="219.4" r="2.5" fill="#E85A1C"/>
<circle cx="619.5" cy="220.7" r="2.5" fill="#E85A1C"/>
<circle cx="661.3" cy="208" r="2.5" fill="#E85A1C"/>
<circle cx="678.1" cy="208.4" r="2.5" fill="#E85A1C"/>
<circle cx="615" cy="180" r="2" fill="#E85A1C"/>
<circle cx="617" cy="186" r="2.5" fill="#E85A1C"/>
<circle cx="616" cy="205" r="2.5" fill="#E85A1C"/>
<circle cx="621" cy="206" r="2.5" fill="#E85A1C"/>
<circle cx="628" cy="212" r="2.5" fill="#E85A1C"/>
<circle cx="622" cy="213" r="2.5" fill="#E85A1C"/>
<circle cx="617" cy="209" r="2.5" fill="#E85A1C"/>
<circle cx="627" cy="222" r="2.5" fill="#E85A1C"/>
<circle cx="634" cy="222" r="2.5" fill="#E85A1C"/>
<circle cx="640" cy="222" r="2.5" fill="#E85A1C"/>
<circle cx="615" cy="197" r="2" fill="#E85A1C"/>
<circle cx="629" cy="196" r="2.5" fill="#E85A1C"/>
<circle cx="613.5" cy="223" r="1.5" fill="#E85A1C"/>
<circle cx="623" cy="222" r="2.5" fill="#E85A1C"/>
<circle cx="630" cy="203" r="2.5" fill="#E85A1C"/>
<circle cx="639" cy="208" r="2.5" fill="#E85A1C"/>
<circle cx="622.0" cy="222.4" r="2.5" fill="#E85A1C"/>
<circle cx="627.7" cy="210.5" r="2.5" fill="#E85A1C"/>
<circle cx="621.9" cy="209.2" r="2.5" fill="#E85A1C"/>
<circle cx="614.6" cy="214.6" r="2.5" fill="#E85A1C"/>
<circle cx="625.7" cy="212.2" r="2.5" fill="#E85A1C"/>
<circle cx="616.2" cy="206.0" r="2.5" fill="#E85A1C"/>
<circle cx="631.3" cy="220.5" r="2.5" fill="#E85A1C"/>
<circle cx="616.7" cy="206.4" r="2.5" fill="#E85A1C"/>
<circle cx="620.8" cy="212.4" r="2.5" fill="#E85A1C"/>
<circle cx="627.6" cy="213.6" r="2.5" fill="#E85A1C"/>
<circle cx="622.6" cy="217.6" r="2.5" fill="#E85A1C"/>
<circle cx="614.1" cy="211.9" r="2.5" fill="#E85A1C"/>
<circle cx="627.4" cy="210.1" r="2.5" fill="#E85A1C"/>
<circle cx="619.8" cy="206.2" r="2.5" fill="#E85A1C"/>
<circle cx="624.9" cy="208.5" r="2.5" fill="#E85A1C"/>
<circle cx="620.5" cy="208.4" r="2.5" fill="#E85A1C"/>
<circle cx="618.2" cy="202.2" r="2.5" fill="#E85A1C"/>
<circle cx="615.7" cy="195.6" r="2.5" fill="#E85A1C"/>
<circle cx="623.8" cy="202.4" r="2.5" fill="#E85A1C"/>
<circle cx="621.8" cy="202.8" r="2.5" fill="#E85A1C"/>
<circle cx="654.9" cy="21.4" r="2.5" fill="#E9614A"/>
<circle cx="632" cy="29.1" r="2.5" fill="#E9614A"/>
<circle cx="623.5" cy="74" r="2.5" fill="#E9614A"/>
<circle cx="620.1" cy="86" r="2.5" fill="#E9614A"/>
<line x1="596.3" y1="10.8" x2="596.3" y2="256.0" stroke="#111" stroke-width="2.2" stroke-dasharray="8.8,8.8" stroke-dashoffset="9.5"/>
<line x1="612.5" y1="10.8" x2="612.5" y2="256.0" stroke="#111" stroke-width="2.2" stroke-dasharray="8.8,8.8" stroke-dashoffset="9.5"/>
<line x1="508.7" y1="223.2" x2="688.0" y2="223.2" stroke="#111" stroke-width="2.2" stroke-dasharray="8.8,8.8" stroke-dashoffset="0"/>
<rect x="508.7" y="10.8" width="179.3" height="245.2" fill="none" stroke="#1a1a1a" stroke-width="1.8"/>
<line x1="553.0" y1="256.0" x2="553.0" y2="258.5" stroke="#333" stroke-width="1" />
<line x1="604.0" y1="256.0" x2="604.0" y2="258.5" stroke="#333" stroke-width="1" />
<line x1="655.0" y1="256.0" x2="655.0" y2="258.5" stroke="#333" stroke-width="1" />
<line x1="506.2" y1="243.9" x2="508.7" y2="243.9" stroke="#333" stroke-width="1" />
<line x1="506.2" y1="159.9" x2="508.7" y2="159.9" stroke="#333" stroke-width="1" />
<line x1="506.2" y1="75.9" x2="508.7" y2="75.9" stroke="#333" stroke-width="1" />
<text x="551.0" y="271.9" font-size="12.8" font-family='"Liberation Sans", sans-serif' fill="#333" text-anchor="middle" textLength="13.5" lengthAdjust="spacingAndGlyphs" >−4</text>
<text x="603.8" y="271.9" font-size="12.8" font-family='"Liberation Sans", sans-serif' fill="#333" text-anchor="middle" >0</text>
<text x="654.9" y="271.9" font-size="12.8" font-family='"Liberation Sans", sans-serif' fill="#333" text-anchor="middle" >4</text>
<text x="508.8" y="80.2" font-size="12.8" font-family='"Liberation Sans", sans-serif' fill="#333" text-anchor="end" textLength="12.5" lengthAdjust="spacingAndGlyphs" >10</text>
<text x="507.0" y="164.2" font-size="12.8" font-family='"Liberation Sans", sans-serif' fill="#333" text-anchor="end" >5</text>
<text x="507.0" y="248.2" font-size="12.8" font-family='"Liberation Sans", sans-serif' fill="#333" text-anchor="end" >0</text>
<text x="562.5" y="284.4" font-size="13.2" font-family='"Liberation Sans", sans-serif' fill="#000" textLength="96" lengthAdjust="spacingAndGlyphs" >log2FoldChange</text>
<text transform="translate(490.6,158.8) rotate(-90)" font-size="13" font-family='"Liberation Sans", sans-serif' fill="#111" textLength="72.5" lengthAdjust="spacingAndGlyphs" >−log10(padj)</text>
<text x="633.7" y="24.4" font-size="12.4" font-family='"Liberation Sans", sans-serif' fill="#222" textLength="18.3" lengthAdjust="spacingAndGlyphs" >VIT</text>
<text x="651.3" y="42.3" font-size="12.4" font-family='"Liberation Sans", sans-serif' fill="#222" textLength="33" lengthAdjust="spacingAndGlyphs" >CETP</text>
<text x="629.3" y="95.2" font-size="12.4" font-family='"Liberation Sans", sans-serif' fill="#222" textLength="46" lengthAdjust="spacingAndGlyphs" >NFKBIZ</text>
<text x="556.4" y="100.8" font-size="12.4" font-family='"Liberation Sans", sans-serif' fill="#222" textLength="30.7" lengthAdjust="spacingAndGlyphs" >GJA1</text>
<text x="527.3" y="179.6" font-size="12.4" font-family='"Liberation Sans", sans-serif' fill="#222" textLength="41.8" lengthAdjust="spacingAndGlyphs" >RGS16</text>
<text x="546.3" y="191.2" font-size="12.4" font-family='"Liberation Sans", sans-serif' fill="#222" textLength="33.5" lengthAdjust="spacingAndGlyphs" >TSHR</text>
<text x="546.9" y="206.5" font-size="12.4" font-family='"Liberation Sans", sans-serif' fill="#222" textLength="49.8" lengthAdjust="spacingAndGlyphs" >SREBF2</text>
<text x="640.6" y="176.9" font-size="12.4" font-family='"Liberation Sans", sans-serif' fill="#222" textLength="42.7" lengthAdjust="spacingAndGlyphs" >EPSTI1</text>
<line x1="571.9" y1="172.7" x2="585.4" y2="161.3" stroke="#222" stroke-width="1" />
<line x1="640.4" y1="158" x2="642.9" y2="164.2" stroke="#E85A1C" stroke-width="1" />
<text x="540.8" y="221.3" font-size="13" font-family='"Liberation Serif", serif' fill="#D42B2B" font-weight="bold" textLength="64" lengthAdjust="spacingAndGlyphs" >FDR = 0.05</text>
<circle cx="714.4" cy="56.2" r="2.4" fill="#E9614A"/>
<circle cx="714.4" cy="69.6" r="2.4" fill="#29ABE2"/>
<circle cx="714.4" cy="82.8" r="2.4" fill="#BEBEBE"/>
<text x="721.7" y="58.6" font-size="12.7" font-family='"Liberation Serif", serif' fill="#222" textLength="16" lengthAdjust="spacingAndGlyphs" >UP</text>
<text x="722.3" y="73.0" font-size="12.7" font-family='"Liberation Serif", serif' fill="#222" textLength="39.8" lengthAdjust="spacingAndGlyphs" >DOWN</text>
<text x="722.3" y="86.2" font-size="12.7" font-family='"Liberation Serif", serif' fill="#222" textLength="42.6" lengthAdjust="spacingAndGlyphs" >NO SIG</text>
<rect x="450.5" y="311.6" width="198.39999999999998" height="100.89999999999998" fill="#fff"/>
<line x1="468.91999999999996" y1="311.6" x2="468.91999999999996" y2="412.5" stroke="#EFEFEF" stroke-width="0.9" />
<line x1="516.48" y1="311.6" x2="516.48" y2="412.5" stroke="#EFEFEF" stroke-width="0.9" />
<line x1="564.04" y1="311.6" x2="564.04" y2="412.5" stroke="#EFEFEF" stroke-width="0.9" />
<line x1="611.6" y1="311.6" x2="611.6" y2="412.5" stroke="#EFEFEF" stroke-width="0.9" />
<line x1="492.7" y1="311.6" x2="492.7" y2="412.5" stroke="#EBEBEB" stroke-width="1.0" />
<line x1="540.26" y1="311.6" x2="540.26" y2="412.5" stroke="#EBEBEB" stroke-width="1.0" />
<line x1="587.8199999999999" y1="311.6" x2="587.8199999999999" y2="412.5" stroke="#EBEBEB" stroke-width="1.0" />
<line x1="635.38" y1="311.6" x2="635.38" y2="412.5" stroke="#EBEBEB" stroke-width="1.0" />
<line x1="450.5" y1="322.5" x2="648.9" y2="322.5" stroke="#EBEBEB" stroke-width="1.0" />
<line x1="450.5" y1="342.1" x2="648.9" y2="342.1" stroke="#EBEBEB" stroke-width="1.0" />
<line x1="450.5" y1="362.0" x2="648.9" y2="362.0" stroke="#EBEBEB" stroke-width="1.0" />
<line x1="450.5" y1="381.8" x2="648.9" y2="381.8" stroke="#EBEBEB" stroke-width="1.0" />
<line x1="450.5" y1="401.6" x2="648.9" y2="401.6" stroke="#EBEBEB" stroke-width="1.0" />
<rect x="648.9" y="311.6" width="23.600000000000023" height="100.89999999999998" fill="#D9D9D9" stroke="#888" stroke-width="1.0"/>
<rect x="450.5" y="311.6" width="198.39999999999998" height="100.89999999999998" fill="none" stroke="#777" stroke-width="1.0"/>
<line x1="648.9" y1="311.6" x2="648.9" y2="412.5" stroke="#666" stroke-width="1.6" />
<line x1="446.7" y1="322.5" x2="450.5" y2="322.5" stroke="#444" stroke-width="1.1" />
<line x1="446.7" y1="342.1" x2="450.5" y2="342.1" stroke="#444" stroke-width="1.1" />
<line x1="446.7" y1="362.0" x2="450.5" y2="362.0" stroke="#444" stroke-width="1.1" />
<line x1="446.7" y1="381.8" x2="450.5" y2="381.8" stroke="#444" stroke-width="1.1" />
<line x1="446.7" y1="401.6" x2="450.5" y2="401.6" stroke="#444" stroke-width="1.1" />
<text transform="translate(657.0,362.05) rotate(90)" font-size="13" font-family='"Liberation Serif", serif' fill="#1a1a1a" text-anchor="middle" >BP</text>
<rect x="450.5" y="422.3" width="198.39999999999998" height="101.30000000000001" fill="#fff"/>
<line x1="468.91999999999996" y1="422.3" x2="468.91999999999996" y2="523.6" stroke="#EFEFEF" stroke-width="0.9" />
<line x1="516.48" y1="422.3" x2="516.48" y2="523.6" stroke="#EFEFEF" stroke-width="0.9" />
<line x1="564.04" y1="422.3" x2="564.04" y2="523.6" stroke="#EFEFEF" stroke-width="0.9" />
<line x1="611.6" y1="422.3" x2="611.6" y2="523.6" stroke="#EFEFEF" stroke-width="0.9" />
<line x1="492.7" y1="422.3" x2="492.7" y2="523.6" stroke="#EBEBEB" stroke-width="1.0" />
<line x1="540.26" y1="422.3" x2="540.26" y2="523.6" stroke="#EBEBEB" stroke-width="1.0" />
<line x1="587.8199999999999" y1="422.3" x2="587.8199999999999" y2="523.6" stroke="#EBEBEB" stroke-width="1.0" />
<line x1="635.38" y1="422.3" x2="635.38" y2="523.6" stroke="#EBEBEB" stroke-width="1.0" />
<line x1="450.5" y1="433.3" x2="648.9" y2="433.3" stroke="#EBEBEB" stroke-width="1.0" />
<line x1="450.5" y1="452.5" x2="648.9" y2="452.5" stroke="#EBEBEB" stroke-width="1.0" />
<line x1="450.5" y1="471.8" x2="648.9" y2="471.8" stroke="#EBEBEB" stroke-width="1.0" />
<line x1="450.5" y1="491.4" x2="648.9" y2="491.4" stroke="#EBEBEB" stroke-width="1.0" />
<line x1="450.5" y1="511.0" x2="648.9" y2="511.0" stroke="#EBEBEB" stroke-width="1.0" />
<rect x="648.9" y="422.3" width="23.600000000000023" height="101.30000000000001" fill="#D9D9D9" stroke="#888" stroke-width="1.0"/>
<rect x="450.5" y="422.3" width="198.39999999999998" height="101.30000000000001" fill="none" stroke="#777" stroke-width="1.0"/>
<line x1="648.9" y1="422.3" x2="648.9" y2="523.6" stroke="#666" stroke-width="1.6" />
<line x1="446.7" y1="433.3" x2="450.5" y2="433.3" stroke="#444" stroke-width="1.1" />
<line x1="446.7" y1="452.5" x2="450.5" y2="452.5" stroke="#444" stroke-width="1.1" />
<line x1="446.7" y1="471.8" x2="450.5" y2="471.8" stroke="#444" stroke-width="1.1" />
<line x1="446.7" y1="491.4" x2="450.5" y2="491.4" stroke="#444" stroke-width="1.1" />
<line x1="446.7" y1="511.0" x2="450.5" y2="511.0" stroke="#444" stroke-width="1.1" />
<text transform="translate(657.0,472.95000000000005) rotate(90)" font-size="13" font-family='"Liberation Serif", serif' fill="#1a1a1a" text-anchor="middle" >CC</text>
<rect x="450.5" y="532.6" width="198.39999999999998" height="101.29999999999995" fill="#fff"/>
<line x1="468.91999999999996" y1="532.6" x2="468.91999999999996" y2="633.9" stroke="#EFEFEF" stroke-width="0.9" />
<line x1="516.48" y1="532.6" x2="516.48" y2="633.9" stroke="#EFEFEF" stroke-width="0.9" />
<line x1="564.04" y1="532.6" x2="564.04" y2="633.9" stroke="#EFEFEF" stroke-width="0.9" />
<line x1="611.6" y1="532.6" x2="611.6" y2="633.9" stroke="#EFEFEF" stroke-width="0.9" />
<line x1="492.7" y1="532.6" x2="492.7" y2="633.9" stroke="#EBEBEB" stroke-width="1.0" />
<line x1="540.26" y1="532.6" x2="540.26" y2="633.9" stroke="#EBEBEB" stroke-width="1.0" />
<line x1="587.8199999999999" y1="532.6" x2="587.8199999999999" y2="633.9" stroke="#EBEBEB" stroke-width="1.0" />
<line x1="635.38" y1="532.6" x2="635.38" y2="633.9" stroke="#EBEBEB" stroke-width="1.0" />
<line x1="450.5" y1="543.6" x2="648.9" y2="543.6" stroke="#EBEBEB" stroke-width="1.0" />
<line x1="450.5" y1="563.2" x2="648.9" y2="563.2" stroke="#EBEBEB" stroke-width="1.0" />
<line x1="450.5" y1="582.8" x2="648.9" y2="582.8" stroke="#EBEBEB" stroke-width="1.0" />
<line x1="450.5" y1="602.4" x2="648.9" y2="602.4" stroke="#EBEBEB" stroke-width="1.0" />
<line x1="450.5" y1="622.1" x2="648.9" y2="622.1" stroke="#EBEBEB" stroke-width="1.0" />
<rect x="648.9" y="532.6" width="23.600000000000023" height="101.29999999999995" fill="#D9D9D9" stroke="#888" stroke-width="1.0"/>
<rect x="450.5" y="532.6" width="198.39999999999998" height="101.29999999999995" fill="none" stroke="#777" stroke-width="1.0"/>
<line x1="648.9" y1="532.6" x2="648.9" y2="633.9" stroke="#666" stroke-width="1.6" />
<line x1="446.7" y1="543.6" x2="450.5" y2="543.6" stroke="#444" stroke-width="1.1" />
<line x1="446.7" y1="563.2" x2="450.5" y2="563.2" stroke="#444" stroke-width="1.1" />
<line x1="446.7" y1="582.8" x2="450.5" y2="582.8" stroke="#444" stroke-width="1.1" />
<line x1="446.7" y1="602.4" x2="450.5" y2="602.4" stroke="#444" stroke-width="1.1" />
<line x1="446.7" y1="622.1" x2="450.5" y2="622.1" stroke="#444" stroke-width="1.1" />
<text transform="translate(657.0,583.25) rotate(90)" font-size="13" font-family='"Liberation Serif", serif' fill="#1a1a1a" text-anchor="middle" >MF</text>
<line x1="492.7" y1="633.9" x2="492.7" y2="637.5" stroke="#333" stroke-width="1.1" />
<text x="492.7" y="651.4" font-size="14" font-family='"Liberation Serif", serif' fill="#333" text-anchor="middle" >20</text>
<line x1="540.26" y1="633.9" x2="540.26" y2="637.5" stroke="#333" stroke-width="1.1" />
<text x="540.26" y="651.4" font-size="14" font-family='"Liberation Serif", serif' fill="#333" text-anchor="middle" >40</text>
<line x1="587.8199999999999" y1="633.9" x2="587.8199999999999" y2="637.5" stroke="#333" stroke-width="1.1" />
<text x="587.8199999999999" y="651.4" font-size="14" font-family='"Liberation Serif", serif' fill="#333" text-anchor="middle" >60</text>
<line x1="635.38" y1="633.9" x2="635.38" y2="637.5" stroke="#333" stroke-width="1.1" />
<text x="635.38" y="651.4" font-size="14" font-family='"Liberation Serif", serif' fill="#333" text-anchor="middle" >80</text>
<text x="440.0" y="327.8" font-size="18.5" font-family='"Liberation Serif", serif' fill="#000" text-anchor="end" >low−density lipoprotein particle remodeling</text>
<text x="440.0" y="347.40000000000003" font-size="18.5" font-family='"Liberation Serif", serif' fill="#000" text-anchor="end" >regulation of macrophage derived foam cell differentiation</text>
<text x="440.0" y="367.3" font-size="18.5" font-family='"Liberation Serif", serif' fill="#000" text-anchor="end" textLength="296.7" lengthAdjust="spacingAndGlyphs" >plasma lipoprotein particle organization</text>
<text x="440.0" y="387.1" font-size="18.5" font-family='"Liberation Serif", serif' fill="#000" text-anchor="end" textLength="323.2" lengthAdjust="spacingAndGlyphs" >protein−lipid complex subunit organization</text>
<text x="440.0" y="406.90000000000003" font-size="18.5" font-family='"Liberation Serif", serif' fill="#000" text-anchor="end" >regulation of cholesterol efflux</text>
<text x="441.0" y="436.8" font-size="18.5" font-family='"Liberation Serif", serif' fill="#000" text-anchor="end" >platelet alpha granule lumen</text>
<text x="441.0" y="456.2" font-size="18.5" font-family='"Liberation Serif", serif' fill="#000" text-anchor="end" >platelet alpha granule</text>
<text x="441.0" y="475.3" font-size="18.5" font-family='"Liberation Serif", serif' fill="#000" text-anchor="end" >endocytic vesicle</text>
<text x="441.0" y="495.0" font-size="18.5" font-family='"Liberation Serif", serif' fill="#000" text-anchor="end" >extracellular matrix</text>
<text x="441.0" y="514.6" font-size="18.5" font-family='"Liberation Serif", serif' fill="#000" text-anchor="end" >external encapsulating structure</text>
<text x="441.0" y="548.6" font-size="18.5" font-family='"Liberation Serif", serif' fill="#000" text-anchor="end" >phosphatidylcholine transporter activity</text>
<text x="441.0" y="567.5" font-size="18.5" font-family='"Liberation Serif", serif' fill="#000" text-anchor="end" >cholesterol transfer activity</text>
<text x="441.0" y="588.0999999999999" font-size="18.5" font-family='"Liberation Serif", serif' fill="#000" text-anchor="end" >sterol transfer activity</text>
<text x="441.0" y="608.6999999999999" font-size="18.5" font-family='"Liberation Serif", serif' fill="#000" text-anchor="end" >phospholipid transporter activity</text>
<text x="441.0" y="627.4" font-size="18.5" font-family='"Liberation Serif", serif' fill="#000" text-anchor="end" >lipid transporter activity</text>
<circle cx="639.9" cy="322.5" r="2.45" fill="#DC0F5A"/>
<circle cx="574.8" cy="342.1" r="5.9" fill="#E81A1E"/>
<circle cx="543.9" cy="362.0" r="5.9" fill="#E0143E"/>
<circle cx="537.2" cy="381.8" r="5.9" fill="#DE1444"/>
<circle cx="524.7" cy="401.6" r="5.9" fill="#D4115C"/>
<circle cx="491.2" cy="433.3" r="2.45" fill="#5B3A9C"/>
<circle cx="479" cy="452.5" r="2.45" fill="#2B4FA3"/>
<circle cx="459.9" cy="471.8" r="7.07" fill="#2B4EA3"/>
<circle cx="459.4" cy="491.4" r="9.6" fill="#B3168A"/>
<circle cx="459.4" cy="511.0" r="9.6" fill="#B3168A"/>
<circle cx="628.5" cy="543.6" r="2.5" fill="#D0106A"/>
<circle cx="586.6" cy="563.2" r="2.5" fill="#C9117A"/>
<circle cx="580.6" cy="582.8" r="2.5" fill="#C9127D"/>
<circle cx="511.7" cy="602.4" r="5.6" fill="#CC1375"/>
<circle cx="483.8" cy="622.1" r="8.3" fill="#E6112F"/>
<text x="696.3" y="311.7" font-size="18.4" font-family='"Liberation Serif", serif' fill="#000" textLength="40.8" lengthAdjust="spacingAndGlyphs" >count</text>
<circle cx="708.4" cy="333" r="2.1" fill="#000"/>
<text x="728.3" y="337.3" font-size="13" font-family='"Liberation Serif", serif' fill="#000" >3</text>
<circle cx="708.4" cy="357.8" r="5.6" fill="#000"/>
<text x="728.3" y="362.1" font-size="13" font-family='"Liberation Serif", serif' fill="#000" >4</text>
<circle cx="708.4" cy="382.6" r="7.2" fill="#000"/>
<text x="728.3" y="386.90000000000003" font-size="13" font-family='"Liberation Serif", serif' fill="#000" >5</text>
<circle cx="708.4" cy="407.6" r="8.3" fill="#000"/>
<text x="728.3" y="411.90000000000003" font-size="13" font-family='"Liberation Serif", serif' fill="#000" >6</text>
<circle cx="708.4" cy="432" r="9.3" fill="#000"/>
<text x="728.3" y="436.3" font-size="13" font-family='"Liberation Serif", serif' fill="#000" >7</text>
<circle cx="708.4" cy="457" r="10.0" fill="#000"/>
<text x="728.3" y="461.3" font-size="13" font-family='"Liberation Serif", serif' fill="#000" >8</text>
<text x="696.3" y="512.5" font-size="18.4" font-family='"Liberation Serif", serif' fill="#000" textLength="113.8" lengthAdjust="spacingAndGlyphs" >−log10(pvalue)</text>
<defs><linearGradient id="gc" x1="0" y1="0" x2="0" y2="1"><stop offset="0" stop-color="#E8162A"/><stop offset="0.3" stop-color="#D40F5E"/><stop offset="0.52" stop-color="#B8148A"/><stop offset="0.75" stop-color="#74378F"/><stop offset="1" stop-color="#2A4CA2"/></linearGradient></defs>
<rect x="696.2" y="520.8" width="24.7" height="123.6" fill="url(#gc)"/>
<line x1="696.2" y1="523.4" x2="700.8" y2="523.4" stroke="#fff" stroke-width="0.9" opacity="0.7"/>
<line x1="716.1" y1="523.4" x2="720.9" y2="523.4" stroke="#fff" stroke-width="0.9" opacity="0.7"/>
<text x="728.3" y="527.9" font-size="13" font-family='"Liberation Serif", serif' fill="#000" >6</text>
<line x1="696.2" y1="562.3" x2="700.8" y2="562.3" stroke="#fff" stroke-width="0.9" opacity="0.7"/>
<line x1="716.1" y1="562.3" x2="720.9" y2="562.3" stroke="#fff" stroke-width="0.9" opacity="0.7"/>
<text x="728.3" y="566.8" font-size="13" font-family='"Liberation Serif", serif' fill="#000" >5</text>
<line x1="696.2" y1="602.1" x2="700.8" y2="602.1" stroke="#fff" stroke-width="0.9" opacity="0.7"/>
<line x1="716.1" y1="602.1" x2="720.9" y2="602.1" stroke="#fff" stroke-width="0.9" opacity="0.7"/>
<text x="728.3" y="606.6" font-size="13" font-family='"Liberation Serif", serif' fill="#000" >4</text>
<line x1="696.2" y1="640.7" x2="700.8" y2="640.7" stroke="#fff" stroke-width="0.9" opacity="0.7"/>
<line x1="716.1" y1="640.7" x2="720.9" y2="640.7" stroke="#fff" stroke-width="0.9" opacity="0.7"/>
<text x="728.3" y="645.2" font-size="13" font-family='"Liberation Serif", serif' fill="#000" >3</text>
<rect x="453.0" y="703.0" width="194.39999999999998" height="95.89999999999998" fill="#fff"/>
<line x1="496.025" y1="703.0" x2="496.025" y2="798.9" stroke="#EFEFEF" stroke-width="0.9" />
<line x1="538.075" y1="703.0" x2="538.075" y2="798.9" stroke="#EFEFEF" stroke-width="0.9" />
<line x1="580.125" y1="703.0" x2="580.125" y2="798.9" stroke="#EFEFEF" stroke-width="0.9" />
<line x1="622.175" y1="703.0" x2="622.175" y2="798.9" stroke="#EFEFEF" stroke-width="0.9" />
<line x1="475.0" y1="703.0" x2="475.0" y2="798.9" stroke="#EBEBEB" stroke-width="1.0" />
<line x1="517.05" y1="703.0" x2="517.05" y2="798.9" stroke="#EBEBEB" stroke-width="1.0" />
<line x1="559.1" y1="703.0" x2="559.1" y2="798.9" stroke="#EBEBEB" stroke-width="1.0" />
<line x1="601.15" y1="703.0" x2="601.15" y2="798.9" stroke="#EBEBEB" stroke-width="1.0" />
<line x1="643.2" y1="703.0" x2="643.2" y2="798.9" stroke="#EBEBEB" stroke-width="1.0" />
<line x1="453.0" y1="713.4" x2="647.4" y2="713.4" stroke="#EBEBEB" stroke-width="1.0" />
<line x1="453.0" y1="732.3" x2="647.4" y2="732.3" stroke="#EBEBEB" stroke-width="1.0" />
<line x1="453.0" y1="750.8" x2="647.4" y2="750.8" stroke="#EBEBEB" stroke-width="1.0" />
<line x1="453.0" y1="769.4" x2="647.4" y2="769.4" stroke="#EBEBEB" stroke-width="1.0" />
<line x1="453.0" y1="787.9" x2="647.4" y2="787.9" stroke="#EBEBEB" stroke-width="1.0" />
<rect x="647.4" y="703.0" width="22.700000000000045" height="95.89999999999998" fill="#D9D9D9" stroke="#888" stroke-width="1.0"/>
<rect x="453.0" y="703.0" width="194.39999999999998" height="95.89999999999998" fill="none" stroke="#777" stroke-width="1.0"/>
<line x1="647.4" y1="703.0" x2="647.4" y2="798.9" stroke="#666" stroke-width="1.6" />
<line x1="449.2" y1="713.4" x2="453.0" y2="713.4" stroke="#444" stroke-width="1.1" />
<line x1="449.2" y1="732.3" x2="453.0" y2="732.3" stroke="#444" stroke-width="1.1" />
<line x1="449.2" y1="750.8" x2="453.0" y2="750.8" stroke="#444" stroke-width="1.1" />
<line x1="449.2" y1="769.4" x2="453.0" y2="769.4" stroke="#444" stroke-width="1.1" />
<line x1="449.2" y1="787.9" x2="453.0" y2="787.9" stroke="#444" stroke-width="1.1" />
<text transform="translate(655.0,750.95) rotate(90)" font-size="12.5" font-family='"Liberation Sans", sans-serif' fill="#1a1a1a" text-anchor="middle" >BP</text>
<rect x="453.0" y="807.5" width="194.39999999999998" height="95.5" fill="#fff"/>
<line x1="496.025" y1="807.5" x2="496.025" y2="903.0" stroke="#EFEFEF" stroke-width="0.9" />
<line x1="538.075" y1="807.5" x2="538.075" y2="903.0" stroke="#EFEFEF" stroke-width="0.9" />
<line x1="580.125" y1="807.5" x2="580.125" y2="903.0" stroke="#EFEFEF" stroke-width="0.9" />
<line x1="622.175" y1="807.5" x2="622.175" y2="903.0" stroke="#EFEFEF" stroke-width="0.9" />
<line x1="475.0" y1="807.5" x2="475.0" y2="903.0" stroke="#EBEBEB" stroke-width="1.0" />
<line x1="517.05" y1="807.5" x2="517.05" y2="903.0" stroke="#EBEBEB" stroke-width="1.0" />
<line x1="559.1" y1="807.5" x2="559.1" y2="903.0" stroke="#EBEBEB" stroke-width="1.0" />
<line x1="601.15" y1="807.5" x2="601.15" y2="903.0" stroke="#EBEBEB" stroke-width="1.0" />
<line x1="643.2" y1="807.5" x2="643.2" y2="903.0" stroke="#EBEBEB" stroke-width="1.0" />
<line x1="453.0" y1="817.8" x2="647.4" y2="817.8" stroke="#EBEBEB" stroke-width="1.0" />
<line x1="453.0" y1="836.3" x2="647.4" y2="836.3" stroke="#EBEBEB" stroke-width="1.0" />
<line x1="453.0" y1="854.9" x2="647.4" y2="854.9" stroke="#EBEBEB" stroke-width="1.0" />
<line x1="453.0" y1="873.4" x2="647.4" y2="873.4" stroke="#EBEBEB" stroke-width="1.0" />
<line x1="453.0" y1="892.0" x2="647.4" y2="892.0" stroke="#EBEBEB" stroke-width="1.0" />
<rect x="647.4" y="807.5" width="22.700000000000045" height="95.5" fill="#D9D9D9" stroke="#888" stroke-width="1.0"/>
<rect x="453.0" y="807.5" width="194.39999999999998" height="95.5" fill="none" stroke="#777" stroke-width="1.0"/>
<line x1="647.4" y1="807.5" x2="647.4" y2="903.0" stroke="#666" stroke-width="1.6" />
<line x1="449.2" y1="817.8" x2="453.0" y2="817.8" stroke="#444" stroke-width="1.1" />
<line x1="449.2" y1="836.3" x2="453.0" y2="836.3" stroke="#444" stroke-width="1.1" />
<line x1="449.2" y1="854.9" x2="453.0" y2="854.9" stroke="#444" stroke-width="1.1" />
<line x1="449.2" y1="873.4" x2="453.0" y2="873.4" stroke="#444" stroke-width="1.1" />
<line x1="449.2" y1="892.0" x2="453.0" y2="892.0" stroke="#444" stroke-width="1.1" />
<text transform="translate(655.0,855.25) rotate(90)" font-size="12.5" font-family='"Liberation Sans", sans-serif' fill="#1a1a1a" text-anchor="middle" >CC</text>
<rect x="453.0" y="911.6" width="194.39999999999998" height="95.10000000000002" fill="#fff"/>
<line x1="496.025" y1="911.6" x2="496.025" y2="1006.7" stroke="#EFEFEF" stroke-width="0.9" />
<line x1="538.075" y1="911.6" x2="538.075" y2="1006.7" stroke="#EFEFEF" stroke-width="0.9" />
<line x1="580.125" y1="911.6" x2="580.125" y2="1006.7" stroke="#EFEFEF" stroke-width="0.9" />
<line x1="622.175" y1="911.6" x2="622.175" y2="1006.7" stroke="#EFEFEF" stroke-width="0.9" />
<line x1="475.0" y1="911.6" x2="475.0" y2="1006.7" stroke="#EBEBEB" stroke-width="1.0" />
<line x1="517.05" y1="911.6" x2="517.05" y2="1006.7" stroke="#EBEBEB" stroke-width="1.0" />
<line x1="559.1" y1="911.6" x2="559.1" y2="1006.7" stroke="#EBEBEB" stroke-width="1.0" />
<line x1="601.15" y1="911.6" x2="601.15" y2="1006.7" stroke="#EBEBEB" stroke-width="1.0" />
<line x1="643.2" y1="911.6" x2="643.2" y2="1006.7" stroke="#EBEBEB" stroke-width="1.0" />
<line x1="453.0" y1="922.2" x2="647.4" y2="922.2" stroke="#EBEBEB" stroke-width="1.0" />
<line x1="453.0" y1="940.8" x2="647.4" y2="940.8" stroke="#EBEBEB" stroke-width="1.0" />
<line x1="453.0" y1="959.3" x2="647.4" y2="959.3" stroke="#EBEBEB" stroke-width="1.0" />
<line x1="453.0" y1="977.9" x2="647.4" y2="977.9" stroke="#EBEBEB" stroke-width="1.0" />
<line x1="453.0" y1="996.1" x2="647.4" y2="996.1" stroke="#EBEBEB" stroke-width="1.0" />
<rect x="647.4" y="911.6" width="22.700000000000045" height="95.10000000000002" fill="#D9D9D9" stroke="#888" stroke-width="1.0"/>
<rect x="453.0" y="911.6" width="194.39999999999998" height="95.10000000000002" fill="none" stroke="#777" stroke-width="1.0"/>
<line x1="647.4" y1="911.6" x2="647.4" y2="1006.7" stroke="#666" stroke-width="1.6" />
<line x1="449.2" y1="922.2" x2="453.0" y2="922.2" stroke="#444" stroke-width="1.1" />
<line x1="449.2" y1="940.8" x2="453.0" y2="940.8" stroke="#444" stroke-width="1.1" />
<line x1="449.2" y1="959.3" x2="453.0" y2="959.3" stroke="#444" stroke-width="1.1" />
<line x1="449.2" y1="977.9" x2="453.0" y2="977.9" stroke="#444" stroke-width="1.1" />
<line x1="449.2" y1="996.1" x2="453.0" y2="996.1" stroke="#444" stroke-width="1.1" />
<text transform="translate(655.0,959.1500000000001) rotate(90)" font-size="12.5" font-family='"Liberation Sans", sans-serif' fill="#1a1a1a" text-anchor="middle" >MF</text>
<line x1="475.0" y1="1006.7" x2="475.0" y2="1010.2" stroke="#333" stroke-width="1.1" />
<text x="475.0" y="1024.8" font-size="13.5" font-family='"Liberation Sans", sans-serif' fill="#4D4D4D" text-anchor="middle" >5</text>
<line x1="517.05" y1="1006.7" x2="517.05" y2="1010.2" stroke="#333" stroke-width="1.1" />
<text x="517.05" y="1024.8" font-size="13.5" font-family='"Liberation Sans", sans-serif' fill="#4D4D4D" text-anchor="middle" >10</text>
<line x1="559.1" y1="1006.7" x2="559.1" y2="1010.2" stroke="#333" stroke-width="1.1" />
<text x="559.1" y="1024.8" font-size="13.5" font-family='"Liberation Sans", sans-serif' fill="#4D4D4D" text-anchor="middle" >15</text>
<line x1="601.15" y1="1006.7" x2="601.15" y2="1010.2" stroke="#333" stroke-width="1.1" />
<text x="601.15" y="1024.8" font-size="13.5" font-family='"Liberation Sans", sans-serif' fill="#4D4D4D" text-anchor="middle" >20</text>
<line x1="643.2" y1="1006.7" x2="643.2" y2="1010.2" stroke="#333" stroke-width="1.1" />
<text x="643.2" y="1024.8" font-size="13.5" font-family='"Liberation Sans", sans-serif' fill="#4D4D4D" text-anchor="middle" >25</text>
<text x="441.6" y="718.6" font-size="18.5" font-family='"Liberation Serif", serif' fill="#000" text-anchor="end" >cholesterol metabolic process</text>
<text x="441.6" y="737.5" font-size="18.5" font-family='"Liberation Serif", serif' fill="#000" text-anchor="end" textLength="176.85" lengthAdjust="spacingAndGlyphs" >male sex differentiation</text>
<text x="441.6" y="756.0" font-size="18.5" font-family='"Liberation Serif", serif' fill="#000" text-anchor="end" >sex differentiation</text>
<text x="441.6" y="774.6" font-size="18.5" font-family='"Liberation Serif", serif' fill="#000" text-anchor="end" textLength="264.02" lengthAdjust="spacingAndGlyphs" >reproductive structure development</text>
<text x="441.6" y="793.1" font-size="18.5" font-family='"Liberation Serif", serif' fill="#000" text-anchor="end" >regulation of secretion</text>
<text x="443.8" y="823.0" font-size="18.5" font-family='"Liberation Serif", serif' fill="#000" text-anchor="end" textLength="342.1" lengthAdjust="spacingAndGlyphs" >intrinsic component of presynaptic membrane</text>
<text x="443.8" y="841.5" font-size="18.5" font-family='"Liberation Serif", serif' fill="#000" text-anchor="end" textLength="384.91" lengthAdjust="spacingAndGlyphs" >endoplasmic reticulum protein−containing complex</text>
<text x="443.8" y="860.1" font-size="18.5" font-family='"Liberation Serif", serif' fill="#000" text-anchor="end" >ion channel complex</text>
<text x="443.8" y="878.6" font-size="18.5" font-family='"Liberation Serif", serif' fill="#000" text-anchor="end" >Golgi membrane</text>
<text x="443.8" y="897.2" font-size="18.5" font-family='"Liberation Serif", serif' fill="#000" text-anchor="end" >axon</text>
<text x="444.9" y="924.8" font-size="18.5" font-family='"Liberation Serif", serif' fill="#000" text-anchor="end" textLength="265.72" lengthAdjust="spacingAndGlyphs" >cell−cell adhesion mediator activity</text>
<text x="444.9" y="945.7" font-size="18.5" font-family='"Liberation Serif", serif' fill="#000" text-anchor="end" textLength="213.2" lengthAdjust="spacingAndGlyphs" >pyridoxal phosphate binding</text>
<text x="444.9" y="965.6" font-size="18.5" font-family='"Liberation Serif", serif' fill="#000" text-anchor="end" >monooxygenase activity</text>
<text x="444.9" y="981.2" font-size="18.5" font-family='"Liberation Serif", serif' fill="#000" text-anchor="end" >glycosyltransferase activity</text>
<text x="444.9" y="998.7" font-size="18.5" font-family='"Liberation Serif", serif' fill="#000" text-anchor="end" >oxidoreductase activity</text>
<circle cx="638.5" cy="713.4" r="8.3" fill="#E8141C"/>
<circle cx="527.5" cy="732.3" r="5.9" fill="#872C95"/>
<circle cx="498.6" cy="750.8" r="7.0" fill="#7F3395"/>
<circle cx="490" cy="769.4" r="8.2" fill="#A01F8F"/>
<circle cx="462.3" cy="787.9" r="6.9" fill="#2C4BA0"/>
<circle cx="556" cy="817.8" r="2.2" fill="#6A3597"/>
<circle cx="529" cy="836.3" r="4.9" fill="#6C3497"/>
<circle cx="473.8" cy="854.9" r="4.9" fill="#2B4FA3"/>
<circle cx="473.8" cy="873.4" r="9.0" fill="#8A2B95"/>
<circle cx="461.5" cy="892.0" r="7.0" fill="#2C4BA0"/>
<circle cx="601.4" cy="922.2" r="2.2" fill="#6E3397"/>
<circle cx="598.2" cy="940.8" r="2.2" fill="#6E3397"/>
<circle cx="521.2" cy="959.3" r="2.2" fill="#3C47A0"/>
<circle cx="477.5" cy="977.9" r="4.9" fill="#2C4BA3"/>
<circle cx="473.8" cy="996.1" r="9.5" fill="#8E2A94"/>
<text x="693.5" y="726.0" font-size="18.4" font-family='"Liberation Serif", serif' fill="#000" textLength="40.3" lengthAdjust="spacingAndGlyphs" >count</text>
<circle cx="704.8" cy="745.4" r="5.0" fill="#000"/>
<text x="723.9" y="749.6999999999999" font-size="13" font-family='"Liberation Serif", serif' fill="#000" >4</text>
<circle cx="704.8" cy="769.5" r="7.2" fill="#000"/>
<text x="723.9" y="773.8" font-size="13" font-family='"Liberation Serif", serif' fill="#000" >6</text>
<circle cx="704.8" cy="793" r="9.0" fill="#000"/>
<text x="723.9" y="797.3" font-size="13" font-family='"Liberation Serif", serif' fill="#000" >8</text>
<circle cx="704.8" cy="816.6" r="9.9" fill="#000"/>
<text x="723.9" y="820.9" font-size="13" font-family='"Liberation Serif", serif' fill="#000" textLength="11.5" lengthAdjust="spacingAndGlyphs" >10</text>
<text x="693.5" y="869.5" font-size="18.4" font-family='"Liberation Serif", serif' fill="#000" textLength="113.8" lengthAdjust="spacingAndGlyphs" >−log10(pvalue)</text>
<defs><linearGradient id="gd" x1="0" y1="0" x2="0" y2="1"><stop offset="0" stop-color="#E8162A"/><stop offset="0.3" stop-color="#D40F5E"/><stop offset="0.52" stop-color="#B8148A"/><stop offset="0.75" stop-color="#74378F"/><stop offset="1" stop-color="#2A4CA2"/></linearGradient></defs>
<rect x="693.5" y="877.6" width="23.0" height="117.7" fill="url(#gd)"/>
<line x1="693.5" y1="893" x2="697.8" y2="893" stroke="#fff" stroke-width="0.9" opacity="0.7"/>
<line x1="712.2" y1="893" x2="716.5" y2="893" stroke="#fff" stroke-width="0.9" opacity="0.7"/>
<text x="723.9" y="897.5" font-size="13" font-family='"Liberation Serif", serif' fill="#000" >8</text>
<line x1="693.5" y1="927.7" x2="697.8" y2="927.7" stroke="#fff" stroke-width="0.9" opacity="0.7"/>
<line x1="712.2" y1="927.7" x2="716.5" y2="927.7" stroke="#fff" stroke-width="0.9" opacity="0.7"/>
<text x="723.9" y="932.2" font-size="13" font-family='"Liberation Serif", serif' fill="#000" >6</text>
<line x1="693.5" y1="962.3" x2="697.8" y2="962.3" stroke="#fff" stroke-width="0.9" opacity="0.7"/>
<line x1="712.2" y1="962.3" x2="716.5" y2="962.3" stroke="#fff" stroke-width="0.9" opacity="0.7"/>
<text x="723.9" y="966.8" font-size="13" font-family='"Liberation Serif", serif' fill="#000" >4</text>
<rect x="262.5" y="1112.7" width="188.8" height="19.2" fill="#CD1640"/>
<line x1="258.5" y1="1122.3" x2="262.5" y2="1122.3" stroke="#333" stroke-width="1" />
<text x="257.4" y="1126.5" font-size="12.27" font-family='"Liberation Serif", serif' fill="#000" text-anchor="end" >Metabolic pathways</text>
<rect x="262.5" y="1137.06" width="173.3" height="19.2" fill="#CD1640"/>
<line x1="258.5" y1="1146.6599999999999" x2="262.5" y2="1146.6599999999999" stroke="#333" stroke-width="1" />
<text x="257.4" y="1150.86" font-size="12.27" font-family='"Liberation Serif", serif' fill="#000" text-anchor="end" >Steroid biosynthesis</text>
<rect x="262.5" y="1161.42" width="94.0" height="19.2" fill="#CD1640"/>
<line x1="258.5" y1="1171.02" x2="262.5" y2="1171.02" stroke="#333" stroke-width="1" />
<text x="257.4" y="1175.22" font-size="12.27" font-family='"Liberation Serif", serif' fill="#000" text-anchor="end" >Neuroactive ligand-receptor interaction</text>
<rect x="262.5" y="1185.78" width="88.10000000000002" height="19.2" fill="#CD1640"/>
<line x1="258.5" y1="1195.3799999999999" x2="262.5" y2="1195.3799999999999" stroke="#333" stroke-width="1" />
<text x="257.4" y="1199.58" font-size="12.27" font-family='"Liberation Serif", serif' fill="#000" text-anchor="end" >Glutathione metabolism</text>
<rect x="262.5" y="1210.14" width="83.30000000000001" height="19.2" fill="#CD1640"/>
<line x1="258.5" y1="1219.74" x2="262.5" y2="1219.74" stroke="#333" stroke-width="1" />
<text x="257.4" y="1223.94" font-size="12.27" font-family='"Liberation Serif", serif' fill="#000" text-anchor="end" >Fatty acid metabolism</text>
<rect x="262.5" y="1234.5" width="70.89999999999998" height="19.2" fill="#CD1640"/>
<line x1="258.5" y1="1244.1" x2="262.5" y2="1244.1" stroke="#333" stroke-width="1" />
<text x="257.4" y="1248.3" font-size="12.27" font-family='"Liberation Serif", serif' fill="#000" text-anchor="end" >Fatty acid degradation</text>
<rect x="262.5" y="1258.8600000000001" width="67.5" height="19.2" fill="#CD1640"/>
<line x1="258.5" y1="1268.46" x2="262.5" y2="1268.46" stroke="#333" stroke-width="1" />
<text x="257.4" y="1272.66" font-size="12.27" font-family='"Liberation Serif", serif' fill="#000" text-anchor="end" >Taurine and hypotaurine metabolism</text>
<rect x="262.5" y="1283.22" width="60.30000000000001" height="19.2" fill="#CD1640"/>
<line x1="258.5" y1="1292.82" x2="262.5" y2="1292.82" stroke="#333" stroke-width="1" />
<text x="257.4" y="1297.02" font-size="12.27" font-family='"Liberation Serif", serif' fill="#000" text-anchor="end" >Glycosphingolipid biosynthesis - ganglio series</text>
<rect x="262.5" y="1307.58" width="57.5" height="19.2" fill="#CD1640"/>
<line x1="258.5" y1="1317.1799999999998" x2="262.5" y2="1317.1799999999998" stroke="#333" stroke-width="1" />
<text x="257.4" y="1321.3799999999999" font-size="12.27" font-family='"Liberation Serif", serif' fill="#000" text-anchor="end" >Glycosaminoglycan biosynthesis - keratan sulfate</text>
<line x1="299" y1="1112.5" x2="299" y2="1327" stroke="#111" stroke-width="1.6" stroke-dasharray="1.6,2.6"/>
<polyline fill="none" stroke="#3a3a3a" stroke-width="1" points="450.6,1122.3 293.9,1146.7 324.9,1171.0 287.4,1195.4 287.4,1219.7 281.2,1244.1 274.7,1268.5 274.7,1292.8 274.7,1317.2"/>
<circle cx="450.6" cy="1122.3" r="2.4" fill="#3a3a3a"/>
<circle cx="293.9" cy="1146.7" r="2.4" fill="#3a3a3a"/>
<circle cx="324.9" cy="1171.0" r="2.4" fill="#3a3a3a"/>
<circle cx="287.4" cy="1195.4" r="2.4" fill="#3a3a3a"/>
<circle cx="287.4" cy="1219.7" r="2.4" fill="#3a3a3a"/>
<circle cx="281.2" cy="1244.1" r="2.4" fill="#3a3a3a"/>
<circle cx="274.7" cy="1268.5" r="2.4" fill="#3a3a3a"/>
<circle cx="274.7" cy="1292.8" r="2.4" fill="#3a3a3a"/>
<circle cx="274.7" cy="1317.2" r="2.4" fill="#3a3a3a"/>
<line x1="262.5" y1="1101.5" x2="262.5" y2="1337.5" stroke="#333" stroke-width="1" />
<line x1="262.5" y1="1101.5" x2="451.3" y2="1101.5" stroke="#333" stroke-width="1" />
<line x1="262.5" y1="1337.5" x2="451.3" y2="1337.5" stroke="#333" stroke-width="1" />
<line x1="262.5" y1="1101.5" x2="262.5" y2="1098.0" stroke="#333" stroke-width="1" />
<text x="262.5" y="1094.8" font-size="13" font-family='"Liberation Serif", serif' fill="#000" text-anchor="middle" >0</text>
<line x1="325.5" y1="1101.5" x2="325.5" y2="1098.0" stroke="#333" stroke-width="1" />
<text x="325.5" y="1094.8" font-size="13" font-family='"Liberation Serif", serif' fill="#000" text-anchor="middle" >10</text>
<line x1="388.5" y1="1101.5" x2="388.5" y2="1098.0" stroke="#333" stroke-width="1" />
<text x="388.5" y="1094.8" font-size="13" font-family='"Liberation Serif", serif' fill="#000" text-anchor="middle" >20</text>
<line x1="451.5" y1="1101.5" x2="451.5" y2="1098.0" stroke="#333" stroke-width="1" />
<text x="451.5" y="1094.8" font-size="13" font-family='"Liberation Serif", serif' fill="#000" text-anchor="middle" >30</text>
<line x1="262.5" y1="1337.5" x2="262.5" y2="1341.0" stroke="#333" stroke-width="1" />
<text x="262.5" y="1351.6" font-size="13" font-family='"Liberation Serif", serif' fill="#000" text-anchor="middle" >0</text>
<line x1="318.9" y1="1337.5" x2="318.9" y2="1341.0" stroke="#333" stroke-width="1" />
<text x="318.9" y="1351.6" font-size="13" font-family='"Liberation Serif", serif' fill="#000" text-anchor="middle" >2</text>
<line x1="375.3" y1="1337.5" x2="375.3" y2="1341.0" stroke="#333" stroke-width="1" />
<text x="375.3" y="1351.6" font-size="13" font-family='"Liberation Serif", serif' fill="#000" text-anchor="middle" >4</text>
<line x1="431.7" y1="1337.5" x2="431.7" y2="1341.0" stroke="#333" stroke-width="1" />
<text x="431.7" y="1351.6" font-size="13" font-family='"Liberation Serif", serif' fill="#000" text-anchor="middle" >6</text>
<text x="337.0" y="1073.4" font-size="18.4" font-family='"Liberation Serif", serif' fill="#000" textLength="40.3" lengthAdjust="spacingAndGlyphs" >count</text>
<text x="296.8" y="1376.3" font-size="18.5" font-family='"Liberation Serif", serif' fill="#000" textLength="114" lengthAdjust="spacingAndGlyphs" >−log10(pvalue)</text>
<rect x="460.1" y="1092.0" width="11.8" height="8.5" fill="#CD1640"/>
<text x="482.2" y="1100.9" font-size="13" font-family='"Liberation Serif", serif' fill="#000" textLength="32.4" lengthAdjust="spacingAndGlyphs" >pvalue</text>
<line x1="459.9" y1="1113.9" x2="472.9" y2="1113.9" stroke="#3a3a3a" stroke-width="1" />
<circle cx="466.4" cy="1113.9" r="2.4" fill="#3a3a3a"/>
<text x="482.2" y="1118.3" font-size="13" font-family='"Liberation Serif", serif' fill="#000" textLength="27.4" lengthAdjust="spacingAndGlyphs" >count</text>
<rect x="567.3000000000001" y="1123.1" width="8.8" height="167.60000000000014" fill="#1DB6B8"/>
<rect x="567.3000000000001" y="1229.1" width="8.8" height="61.600000000000136" fill="#EC7166"/>
<rect x="587.3000000000001" y="1264.2" width="8.8" height="26.5" fill="#EC7166"/>
<rect x="587.3000000000001" y="1272.3" width="8.8" height="18.40000000000009" fill="#1DB6B8"/>
<rect x="607.5" y="1280" width="8.8" height="10.700000000000045" fill="#EC7166"/>
<rect x="607.5" y="1281.6" width="8.8" height="9.100000000000136" fill="#1DB6B8"/>
<rect x="627.7" y="1284.3" width="8.8" height="6.400000000000091" fill="#1DB6B8"/>
<rect x="647.8000000000001" y="1285.4" width="8.8" height="5.2999999999999545" fill="#1DB6B8"/>
<rect x="647.8000000000001" y="1286.6" width="8.8" height="4.100000000000136" fill="#EC7166"/>
<rect x="667.8000000000001" y="1285.8" width="8.8" height="4.900000000000091" fill="#1DB6B8"/>
<rect x="667.8000000000001" y="1287.4" width="8.8" height="3.2999999999999545" fill="#EC7166"/>
<rect x="688.0" y="1287.0" width="8.8" height="3.7000000000000455" fill="#EC7166"/>
<rect x="688.0" y="1288.1" width="8.8" height="2.6000000000001364" fill="#1DB6B8"/>
<rect x="708.1" y="1288.1" width="8.8" height="2.6000000000001364" fill="#1DB6B8"/>
<rect x="728.1" y="1287.4" width="8.8" height="3.2999999999999545" fill="#1DB6B8"/>
<rect x="728.1" y="1288.5" width="8.8" height="2.2000000000000455" fill="#EC7166"/>
<rect x="748.9" y="1288.1" width="8.8" height="2.6000000000001364" fill="#EC7166"/>
<rect x="748.9" y="1289.0" width="8.8" height="1.7000000000000455" fill="#1DB6B8"/>
<rect x="768.9" y="1288.5" width="8.8" height="2.2000000000000455" fill="#1DB6B8"/>
<line x1="559.6" y1="1114.9" x2="559.6" y2="1299.3" stroke="#222" stroke-width="1.2" />
<line x1="559.0" y1="1299.3" x2="785.3" y2="1299.3" stroke="#222" stroke-width="1.2" />
<line x1="555.8" y1="1290.7" x2="559.6" y2="1290.7" stroke="#333" stroke-width="1.1" />
<text x="549.8" y="1295.9" font-size="14.5" font-family='"Liberation Sans", sans-serif' fill="#4D4D4D" text-anchor="end" textLength="4.6" lengthAdjust="spacingAndGlyphs" >0</text>
<line x1="555.8" y1="1245.3" x2="559.6" y2="1245.3" stroke="#333" stroke-width="1.1" />
<text x="549.8" y="1250.5" font-size="14.5" font-family='"Liberation Sans", sans-serif' fill="#4D4D4D" text-anchor="end" textLength="13.2" lengthAdjust="spacingAndGlyphs" >20</text>
<line x1="555.8" y1="1199.9" x2="559.6" y2="1199.9" stroke="#333" stroke-width="1.1" />
<text x="549.8" y="1205.1000000000001" font-size="14.5" font-family='"Liberation Sans", sans-serif' fill="#4D4D4D" text-anchor="end" textLength="13.2" lengthAdjust="spacingAndGlyphs" >40</text>
<line x1="555.8" y1="1154.5" x2="559.6" y2="1154.5" stroke="#333" stroke-width="1.1" />
<text x="549.8" y="1159.7" font-size="14.5" font-family='"Liberation Sans", sans-serif' fill="#4D4D4D" text-anchor="end" textLength="13.2" lengthAdjust="spacingAndGlyphs" >60</text>
<line x1="571.7" y1="1299.3" x2="571.7" y2="1303.2" stroke="#333" stroke-width="1.1" />
<line x1="591.7" y1="1299.3" x2="591.7" y2="1303.2" stroke="#333" stroke-width="1.1" />
<line x1="611.9" y1="1299.3" x2="611.9" y2="1303.2" stroke="#333" stroke-width="1.1" />
<line x1="632.1" y1="1299.3" x2="632.1" y2="1303.2" stroke="#333" stroke-width="1.1" />
<line x1="652.2" y1="1299.3" x2="652.2" y2="1303.2" stroke="#333" stroke-width="1.1" />
<line x1="672.2" y1="1299.3" x2="672.2" y2="1303.2" stroke="#333" stroke-width="1.1" />
<line x1="692.4" y1="1299.3" x2="692.4" y2="1303.2" stroke="#333" stroke-width="1.1" />
<line x1="712.5" y1="1299.3" x2="712.5" y2="1303.2" stroke="#333" stroke-width="1.1" />
<line x1="732.5" y1="1299.3" x2="732.5" y2="1303.2" stroke="#333" stroke-width="1.1" />
<line x1="753.3" y1="1299.3" x2="753.3" y2="1303.2" stroke="#333" stroke-width="1.1" />
<line x1="773.3" y1="1299.3" x2="773.3" y2="1303.2" stroke="#333" stroke-width="1.1" />
<text transform="translate(580.85,1319.00) rotate(-70)" font-size="13.5" font-family='"Liberation Sans", sans-serif' fill="#1a1a1a" text-anchor="end">PRL</text>
<text transform="translate(601.50,1317.20) rotate(-70)" font-size="13.5" font-family='"Liberation Sans", sans-serif' fill="#1a1a1a" text-anchor="end">CHGA</text>
<text transform="translate(624.59,1309.26) rotate(-70)" font-size="13.5" font-family='"Liberation Sans", sans-serif' fill="#1a1a1a" text-anchor="end">LOC106046928</text>
<text transform="translate(642.48,1315.61) rotate(-70)" font-size="13.5" font-family='"Liberation Sans", sans-serif' fill="#1a1a1a" text-anchor="end">EEF1A1</text>
<text transform="translate(662.08,1316.99) rotate(-70)" font-size="13.5" font-family='"Liberation Sans", sans-serif' fill="#1a1a1a" text-anchor="end">POMC</text>
<text transform="translate(681.81,1317.73) rotate(-70)" font-size="13.5" font-family='"Liberation Sans", sans-serif' fill="#1a1a1a" text-anchor="end">DKK3</text>
<text transform="translate(701.93,1317.94) rotate(-70)" font-size="13.5" font-family='"Liberation Sans", sans-serif' fill="#1a1a1a" text-anchor="end">FTH1</text>
<text transform="translate(722.42,1316.88) rotate(-70)" font-size="13.5" font-family='"Liberation Sans", sans-serif' fill="#1a1a1a" text-anchor="end">RPL23</text>
<text transform="translate(742.19,1317.52) rotate(-70)" font-size="13.5" font-family='"Liberation Sans", sans-serif' fill="#1a1a1a" text-anchor="end">SCG2</text>
<text transform="translate(765.99,1309.26) rotate(-70)" font-size="13.5" font-family='"Liberation Sans", sans-serif' fill="#1a1a1a" text-anchor="end">LOC106044772</text>
<text transform="translate(784.60,1313.07) rotate(-70)" font-size="13.5" font-family='"Liberation Sans", sans-serif' fill="#1a1a1a" text-anchor="end">HSP90AA1</text>
<text transform="translate(530.0,1255.2) rotate(-90)" font-size="15.5" font-family='"Liberation Sans", sans-serif' fill="#1a1a1a" textLength="124" lengthAdjust="spacingAndGlyphs" >FPKM value/1000</text>
<rect x="704.9" y="1136.3" width="23.1" height="23.2" fill="#EC7166"/>
<rect x="704.9" y="1162.2" width="23.1" height="23.2" fill="#1DB6B8"/>
<text x="737.9" y="1154.0" font-size="14.5" font-family='"Liberation Sans", sans-serif' fill="#2a2a2a" textLength="41.3" lengthAdjust="spacingAndGlyphs" >Broody</text>
<text x="737.9" y="1179.6" font-size="14.5" font-family='"Liberation Sans", sans-serif' fill="#2a2a2a" textLength="20.3" lengthAdjust="spacingAndGlyphs" >Lay</text>
<text x="612.3" y="1080.2" font-size="14.3" font-family='"Liberation Serif", serif' fill="#000" font-weight="bold" textLength="148.6" lengthAdjust="spacingAndGlyphs" >log2FoldChange = −1.53</text>
<text x="652.2" y="1096.5" font-size="14.3" font-family='"Liberation Serif", serif' fill="#000" font-weight="bold" textLength="69" lengthAdjust="spacingAndGlyphs" >FDR=0.009</text>
<line x1="575.4" y1="1123.2" x2="624.5" y2="1099.6" stroke="#E62E9C" stroke-width="1.4" /></svg></body></html>
